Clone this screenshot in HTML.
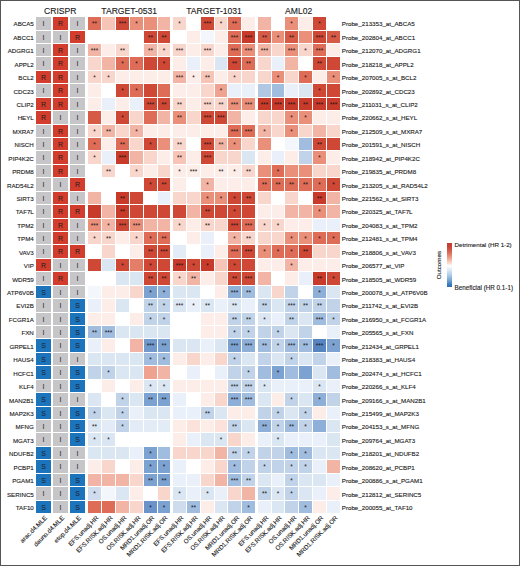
<!DOCTYPE html><html><head><meta charset="utf-8"><style>
html,body{margin:0;padding:0;background:#fff;}
#c{position:relative;width:520px;height:566px;overflow:hidden;background:#fff;font-family:"Liberation Sans",sans-serif;color:#1a1a1a;}
.b{position:absolute;box-sizing:border-box;}
.c{position:absolute;}
.t{position:absolute;white-space:nowrap;line-height:1;-webkit-text-stroke:0.12px #222;}
.s{position:absolute;text-align:center;line-height:1;color:#1a1414;}
</style></head><body><div id="c">
<div class="b" style="left:0;top:0;width:520px;height:566px;border:1px solid #555;"></div>
<div class="c" style="left:36px;top:17px;width:15px;height:13px;background:#c6c6c8"></div>
<div class="s" style="left:36px;top:20.20px;width:15px;font-size:7.0px;color:#1e1e1e">I</div>
<div class="c" style="left:53px;top:17px;width:15px;height:13px;background:#d23d2d"></div>
<div class="s" style="left:53px;top:20.20px;width:15px;font-size:7.0px;color:#1e1e1e">R</div>
<div class="c" style="left:70px;top:17px;width:15px;height:13px;background:#c6c6c8"></div>
<div class="s" style="left:70px;top:20.20px;width:15px;font-size:7.0px;color:#1e1e1e">I</div>
<div class="c" style="left:36px;top:31px;width:15px;height:12px;background:#c6c6c8"></div>
<div class="s" style="left:36px;top:33.70px;width:15px;font-size:7.0px;color:#1e1e1e">I</div>
<div class="c" style="left:53px;top:31px;width:15px;height:12px;background:#c6c6c8"></div>
<div class="s" style="left:53px;top:33.70px;width:15px;font-size:7.0px;color:#1e1e1e">I</div>
<div class="c" style="left:70px;top:31px;width:15px;height:12px;background:#d23d2d"></div>
<div class="s" style="left:70px;top:33.70px;width:15px;font-size:7.0px;color:#1e1e1e">R</div>
<div class="c" style="left:36px;top:44px;width:15px;height:12px;background:#c6c6c8"></div>
<div class="s" style="left:36px;top:46.70px;width:15px;font-size:7.0px;color:#1e1e1e">I</div>
<div class="c" style="left:53px;top:44px;width:15px;height:12px;background:#d23d2d"></div>
<div class="s" style="left:53px;top:46.70px;width:15px;font-size:7.0px;color:#1e1e1e">R</div>
<div class="c" style="left:70px;top:44px;width:15px;height:12px;background:#c6c6c8"></div>
<div class="s" style="left:70px;top:46.70px;width:15px;font-size:7.0px;color:#1e1e1e">I</div>
<div class="c" style="left:36px;top:57px;width:15px;height:13px;background:#c6c6c8"></div>
<div class="s" style="left:36px;top:60.20px;width:15px;font-size:7.0px;color:#1e1e1e">I</div>
<div class="c" style="left:53px;top:57px;width:15px;height:13px;background:#d23d2d"></div>
<div class="s" style="left:53px;top:60.20px;width:15px;font-size:7.0px;color:#1e1e1e">R</div>
<div class="c" style="left:70px;top:57px;width:15px;height:13px;background:#c6c6c8"></div>
<div class="s" style="left:70px;top:60.20px;width:15px;font-size:7.0px;color:#1e1e1e">I</div>
<div class="c" style="left:36px;top:71px;width:15px;height:12px;background:#d23d2d"></div>
<div class="s" style="left:36px;top:73.70px;width:15px;font-size:7.0px;color:#1e1e1e">R</div>
<div class="c" style="left:53px;top:71px;width:15px;height:12px;background:#d23d2d"></div>
<div class="s" style="left:53px;top:73.70px;width:15px;font-size:7.0px;color:#1e1e1e">R</div>
<div class="c" style="left:70px;top:71px;width:15px;height:12px;background:#c6c6c8"></div>
<div class="s" style="left:70px;top:73.70px;width:15px;font-size:7.0px;color:#1e1e1e">I</div>
<div class="c" style="left:36px;top:84px;width:15px;height:13px;background:#c6c6c8"></div>
<div class="s" style="left:36px;top:87.20px;width:15px;font-size:7.0px;color:#1e1e1e">I</div>
<div class="c" style="left:53px;top:84px;width:15px;height:13px;background:#d23d2d"></div>
<div class="s" style="left:53px;top:87.20px;width:15px;font-size:7.0px;color:#1e1e1e">R</div>
<div class="c" style="left:70px;top:84px;width:15px;height:13px;background:#c6c6c8"></div>
<div class="s" style="left:70px;top:87.20px;width:15px;font-size:7.0px;color:#1e1e1e">I</div>
<div class="c" style="left:36px;top:98px;width:15px;height:12px;background:#d23d2d"></div>
<div class="s" style="left:36px;top:100.70px;width:15px;font-size:7.0px;color:#1e1e1e">R</div>
<div class="c" style="left:53px;top:98px;width:15px;height:12px;background:#d23d2d"></div>
<div class="s" style="left:53px;top:100.70px;width:15px;font-size:7.0px;color:#1e1e1e">R</div>
<div class="c" style="left:70px;top:98px;width:15px;height:12px;background:#c6c6c8"></div>
<div class="s" style="left:70px;top:100.70px;width:15px;font-size:7.0px;color:#1e1e1e">I</div>
<div class="c" style="left:36px;top:111px;width:15px;height:13px;background:#d23d2d"></div>
<div class="s" style="left:36px;top:114.20px;width:15px;font-size:7.0px;color:#1e1e1e">R</div>
<div class="c" style="left:53px;top:111px;width:15px;height:13px;background:#c6c6c8"></div>
<div class="s" style="left:53px;top:114.20px;width:15px;font-size:7.0px;color:#1e1e1e">I</div>
<div class="c" style="left:70px;top:111px;width:15px;height:13px;background:#c6c6c8"></div>
<div class="s" style="left:70px;top:114.20px;width:15px;font-size:7.0px;color:#1e1e1e">I</div>
<div class="c" style="left:36px;top:125px;width:15px;height:12px;background:#c6c6c8"></div>
<div class="s" style="left:36px;top:127.70px;width:15px;font-size:7.0px;color:#1e1e1e">I</div>
<div class="c" style="left:53px;top:125px;width:15px;height:12px;background:#d23d2d"></div>
<div class="s" style="left:53px;top:127.70px;width:15px;font-size:7.0px;color:#1e1e1e">R</div>
<div class="c" style="left:70px;top:125px;width:15px;height:12px;background:#c6c6c8"></div>
<div class="s" style="left:70px;top:127.70px;width:15px;font-size:7.0px;color:#1e1e1e">I</div>
<div class="c" style="left:36px;top:138px;width:15px;height:12px;background:#c6c6c8"></div>
<div class="s" style="left:36px;top:140.70px;width:15px;font-size:7.0px;color:#1e1e1e">I</div>
<div class="c" style="left:53px;top:138px;width:15px;height:12px;background:#d23d2d"></div>
<div class="s" style="left:53px;top:140.70px;width:15px;font-size:7.0px;color:#1e1e1e">R</div>
<div class="c" style="left:70px;top:138px;width:15px;height:12px;background:#c6c6c8"></div>
<div class="s" style="left:70px;top:140.70px;width:15px;font-size:7.0px;color:#1e1e1e">I</div>
<div class="c" style="left:36px;top:151px;width:15px;height:13px;background:#c6c6c8"></div>
<div class="s" style="left:36px;top:154.20px;width:15px;font-size:7.0px;color:#1e1e1e">I</div>
<div class="c" style="left:53px;top:151px;width:15px;height:13px;background:#d23d2d"></div>
<div class="s" style="left:53px;top:154.20px;width:15px;font-size:7.0px;color:#1e1e1e">R</div>
<div class="c" style="left:70px;top:151px;width:15px;height:13px;background:#c6c6c8"></div>
<div class="s" style="left:70px;top:154.20px;width:15px;font-size:7.0px;color:#1e1e1e">I</div>
<div class="c" style="left:36px;top:165px;width:15px;height:12px;background:#c6c6c8"></div>
<div class="s" style="left:36px;top:167.70px;width:15px;font-size:7.0px;color:#1e1e1e">I</div>
<div class="c" style="left:53px;top:165px;width:15px;height:12px;background:#d23d2d"></div>
<div class="s" style="left:53px;top:167.70px;width:15px;font-size:7.0px;color:#1e1e1e">R</div>
<div class="c" style="left:70px;top:165px;width:15px;height:12px;background:#c6c6c8"></div>
<div class="s" style="left:70px;top:167.70px;width:15px;font-size:7.0px;color:#1e1e1e">I</div>
<div class="c" style="left:36px;top:178px;width:15px;height:13px;background:#c6c6c8"></div>
<div class="s" style="left:36px;top:181.20px;width:15px;font-size:7.0px;color:#1e1e1e">I</div>
<div class="c" style="left:53px;top:178px;width:15px;height:13px;background:#c6c6c8"></div>
<div class="s" style="left:53px;top:181.20px;width:15px;font-size:7.0px;color:#1e1e1e">I</div>
<div class="c" style="left:70px;top:178px;width:15px;height:13px;background:#d23d2d"></div>
<div class="s" style="left:70px;top:181.20px;width:15px;font-size:7.0px;color:#1e1e1e">R</div>
<div class="c" style="left:36px;top:192px;width:15px;height:12px;background:#c6c6c8"></div>
<div class="s" style="left:36px;top:194.70px;width:15px;font-size:7.0px;color:#1e1e1e">I</div>
<div class="c" style="left:53px;top:192px;width:15px;height:12px;background:#d23d2d"></div>
<div class="s" style="left:53px;top:194.70px;width:15px;font-size:7.0px;color:#1e1e1e">R</div>
<div class="c" style="left:70px;top:192px;width:15px;height:12px;background:#c6c6c8"></div>
<div class="s" style="left:70px;top:194.70px;width:15px;font-size:7.0px;color:#1e1e1e">I</div>
<div class="c" style="left:36px;top:205px;width:15px;height:13px;background:#c6c6c8"></div>
<div class="s" style="left:36px;top:208.20px;width:15px;font-size:7.0px;color:#1e1e1e">I</div>
<div class="c" style="left:53px;top:205px;width:15px;height:13px;background:#d23d2d"></div>
<div class="s" style="left:53px;top:208.20px;width:15px;font-size:7.0px;color:#1e1e1e">R</div>
<div class="c" style="left:70px;top:205px;width:15px;height:13px;background:#d23d2d"></div>
<div class="s" style="left:70px;top:208.20px;width:15px;font-size:7.0px;color:#1e1e1e">R</div>
<div class="c" style="left:36px;top:219px;width:15px;height:12px;background:#c6c6c8"></div>
<div class="s" style="left:36px;top:221.70px;width:15px;font-size:7.0px;color:#1e1e1e">I</div>
<div class="c" style="left:53px;top:219px;width:15px;height:12px;background:#d23d2d"></div>
<div class="s" style="left:53px;top:221.70px;width:15px;font-size:7.0px;color:#1e1e1e">R</div>
<div class="c" style="left:70px;top:219px;width:15px;height:12px;background:#c6c6c8"></div>
<div class="s" style="left:70px;top:221.70px;width:15px;font-size:7.0px;color:#1e1e1e">I</div>
<div class="c" style="left:36px;top:232px;width:15px;height:12px;background:#c6c6c8"></div>
<div class="s" style="left:36px;top:234.70px;width:15px;font-size:7.0px;color:#1e1e1e">I</div>
<div class="c" style="left:53px;top:232px;width:15px;height:12px;background:#d23d2d"></div>
<div class="s" style="left:53px;top:234.70px;width:15px;font-size:7.0px;color:#1e1e1e">R</div>
<div class="c" style="left:70px;top:232px;width:15px;height:12px;background:#c6c6c8"></div>
<div class="s" style="left:70px;top:234.70px;width:15px;font-size:7.0px;color:#1e1e1e">I</div>
<div class="c" style="left:36px;top:245px;width:15px;height:13px;background:#c6c6c8"></div>
<div class="s" style="left:36px;top:248.20px;width:15px;font-size:7.0px;color:#1e1e1e">I</div>
<div class="c" style="left:53px;top:245px;width:15px;height:13px;background:#d23d2d"></div>
<div class="s" style="left:53px;top:248.20px;width:15px;font-size:7.0px;color:#1e1e1e">R</div>
<div class="c" style="left:70px;top:245px;width:15px;height:13px;background:#d23d2d"></div>
<div class="s" style="left:70px;top:248.20px;width:15px;font-size:7.0px;color:#1e1e1e">R</div>
<div class="c" style="left:36px;top:259px;width:15px;height:12px;background:#d23d2d"></div>
<div class="s" style="left:36px;top:261.70px;width:15px;font-size:7.0px;color:#1e1e1e">R</div>
<div class="c" style="left:53px;top:259px;width:15px;height:12px;background:#c6c6c8"></div>
<div class="s" style="left:53px;top:261.70px;width:15px;font-size:7.0px;color:#1e1e1e">I</div>
<div class="c" style="left:70px;top:259px;width:15px;height:12px;background:#c6c6c8"></div>
<div class="s" style="left:70px;top:261.70px;width:15px;font-size:7.0px;color:#1e1e1e">I</div>
<div class="c" style="left:36px;top:272px;width:15px;height:13px;background:#c6c6c8"></div>
<div class="s" style="left:36px;top:275.20px;width:15px;font-size:7.0px;color:#1e1e1e">I</div>
<div class="c" style="left:53px;top:272px;width:15px;height:13px;background:#d23d2d"></div>
<div class="s" style="left:53px;top:275.20px;width:15px;font-size:7.0px;color:#1e1e1e">R</div>
<div class="c" style="left:70px;top:272px;width:15px;height:13px;background:#c6c6c8"></div>
<div class="s" style="left:70px;top:275.20px;width:15px;font-size:7.0px;color:#1e1e1e">I</div>
<div class="c" style="left:36px;top:286px;width:15px;height:12px;background:#1c74bd"></div>
<div class="s" style="left:36px;top:288.70px;width:15px;font-size:7.0px;color:#1e1e1e">S</div>
<div class="c" style="left:53px;top:286px;width:15px;height:12px;background:#c6c6c8"></div>
<div class="s" style="left:53px;top:288.70px;width:15px;font-size:7.0px;color:#1e1e1e">I</div>
<div class="c" style="left:70px;top:286px;width:15px;height:12px;background:#c6c6c8"></div>
<div class="s" style="left:70px;top:288.70px;width:15px;font-size:7.0px;color:#1e1e1e">I</div>
<div class="c" style="left:36px;top:299px;width:15px;height:13px;background:#c6c6c8"></div>
<div class="s" style="left:36px;top:302.20px;width:15px;font-size:7.0px;color:#1e1e1e">I</div>
<div class="c" style="left:53px;top:299px;width:15px;height:13px;background:#c6c6c8"></div>
<div class="s" style="left:53px;top:302.20px;width:15px;font-size:7.0px;color:#1e1e1e">I</div>
<div class="c" style="left:70px;top:299px;width:15px;height:13px;background:#1c74bd"></div>
<div class="s" style="left:70px;top:302.20px;width:15px;font-size:7.0px;color:#1e1e1e">S</div>
<div class="c" style="left:36px;top:313px;width:15px;height:12px;background:#c6c6c8"></div>
<div class="s" style="left:36px;top:315.70px;width:15px;font-size:7.0px;color:#1e1e1e">I</div>
<div class="c" style="left:53px;top:313px;width:15px;height:12px;background:#c6c6c8"></div>
<div class="s" style="left:53px;top:315.70px;width:15px;font-size:7.0px;color:#1e1e1e">I</div>
<div class="c" style="left:70px;top:313px;width:15px;height:12px;background:#1c74bd"></div>
<div class="s" style="left:70px;top:315.70px;width:15px;font-size:7.0px;color:#1e1e1e">S</div>
<div class="c" style="left:36px;top:326px;width:15px;height:12px;background:#c6c6c8"></div>
<div class="s" style="left:36px;top:328.70px;width:15px;font-size:7.0px;color:#1e1e1e">I</div>
<div class="c" style="left:53px;top:326px;width:15px;height:12px;background:#c6c6c8"></div>
<div class="s" style="left:53px;top:328.70px;width:15px;font-size:7.0px;color:#1e1e1e">I</div>
<div class="c" style="left:70px;top:326px;width:15px;height:12px;background:#1c74bd"></div>
<div class="s" style="left:70px;top:328.70px;width:15px;font-size:7.0px;color:#1e1e1e">S</div>
<div class="c" style="left:36px;top:339px;width:15px;height:13px;background:#1c74bd"></div>
<div class="s" style="left:36px;top:342.20px;width:15px;font-size:7.0px;color:#1e1e1e">S</div>
<div class="c" style="left:53px;top:339px;width:15px;height:13px;background:#c6c6c8"></div>
<div class="s" style="left:53px;top:342.20px;width:15px;font-size:7.0px;color:#1e1e1e">I</div>
<div class="c" style="left:70px;top:339px;width:15px;height:13px;background:#1c74bd"></div>
<div class="s" style="left:70px;top:342.20px;width:15px;font-size:7.0px;color:#1e1e1e">S</div>
<div class="c" style="left:36px;top:353px;width:15px;height:12px;background:#1c74bd"></div>
<div class="s" style="left:36px;top:355.70px;width:15px;font-size:7.0px;color:#1e1e1e">S</div>
<div class="c" style="left:53px;top:353px;width:15px;height:12px;background:#c6c6c8"></div>
<div class="s" style="left:53px;top:355.70px;width:15px;font-size:7.0px;color:#1e1e1e">I</div>
<div class="c" style="left:70px;top:353px;width:15px;height:12px;background:#c6c6c8"></div>
<div class="s" style="left:70px;top:355.70px;width:15px;font-size:7.0px;color:#1e1e1e">I</div>
<div class="c" style="left:36px;top:366px;width:15px;height:13px;background:#1c74bd"></div>
<div class="s" style="left:36px;top:369.20px;width:15px;font-size:7.0px;color:#1e1e1e">S</div>
<div class="c" style="left:53px;top:366px;width:15px;height:13px;background:#c6c6c8"></div>
<div class="s" style="left:53px;top:369.20px;width:15px;font-size:7.0px;color:#1e1e1e">I</div>
<div class="c" style="left:70px;top:366px;width:15px;height:13px;background:#1c74bd"></div>
<div class="s" style="left:70px;top:369.20px;width:15px;font-size:7.0px;color:#1e1e1e">S</div>
<div class="c" style="left:36px;top:380px;width:15px;height:12px;background:#c6c6c8"></div>
<div class="s" style="left:36px;top:382.70px;width:15px;font-size:7.0px;color:#1e1e1e">I</div>
<div class="c" style="left:53px;top:380px;width:15px;height:12px;background:#c6c6c8"></div>
<div class="s" style="left:53px;top:382.70px;width:15px;font-size:7.0px;color:#1e1e1e">I</div>
<div class="c" style="left:70px;top:380px;width:15px;height:12px;background:#1c74bd"></div>
<div class="s" style="left:70px;top:382.70px;width:15px;font-size:7.0px;color:#1e1e1e">S</div>
<div class="c" style="left:36px;top:393px;width:15px;height:13px;background:#1c74bd"></div>
<div class="s" style="left:36px;top:396.20px;width:15px;font-size:7.0px;color:#1e1e1e">S</div>
<div class="c" style="left:53px;top:393px;width:15px;height:13px;background:#c6c6c8"></div>
<div class="s" style="left:53px;top:396.20px;width:15px;font-size:7.0px;color:#1e1e1e">I</div>
<div class="c" style="left:70px;top:393px;width:15px;height:13px;background:#c6c6c8"></div>
<div class="s" style="left:70px;top:396.20px;width:15px;font-size:7.0px;color:#1e1e1e">I</div>
<div class="c" style="left:36px;top:407px;width:15px;height:12px;background:#1c74bd"></div>
<div class="s" style="left:36px;top:409.70px;width:15px;font-size:7.0px;color:#1e1e1e">S</div>
<div class="c" style="left:53px;top:407px;width:15px;height:12px;background:#c6c6c8"></div>
<div class="s" style="left:53px;top:409.70px;width:15px;font-size:7.0px;color:#1e1e1e">I</div>
<div class="c" style="left:70px;top:407px;width:15px;height:12px;background:#1c74bd"></div>
<div class="s" style="left:70px;top:409.70px;width:15px;font-size:7.0px;color:#1e1e1e">S</div>
<div class="c" style="left:36px;top:420px;width:15px;height:12px;background:#c6c6c8"></div>
<div class="s" style="left:36px;top:422.70px;width:15px;font-size:7.0px;color:#1e1e1e">I</div>
<div class="c" style="left:53px;top:420px;width:15px;height:12px;background:#c6c6c8"></div>
<div class="s" style="left:53px;top:422.70px;width:15px;font-size:7.0px;color:#1e1e1e">I</div>
<div class="c" style="left:70px;top:420px;width:15px;height:12px;background:#1c74bd"></div>
<div class="s" style="left:70px;top:422.70px;width:15px;font-size:7.0px;color:#1e1e1e">S</div>
<div class="c" style="left:36px;top:433px;width:15px;height:13px;background:#c6c6c8"></div>
<div class="s" style="left:36px;top:436.20px;width:15px;font-size:7.0px;color:#1e1e1e">I</div>
<div class="c" style="left:53px;top:433px;width:15px;height:13px;background:#c6c6c8"></div>
<div class="s" style="left:53px;top:436.20px;width:15px;font-size:7.0px;color:#1e1e1e">I</div>
<div class="c" style="left:70px;top:433px;width:15px;height:13px;background:#1c74bd"></div>
<div class="s" style="left:70px;top:436.20px;width:15px;font-size:7.0px;color:#1e1e1e">S</div>
<div class="c" style="left:36px;top:447px;width:15px;height:12px;background:#1c74bd"></div>
<div class="s" style="left:36px;top:449.70px;width:15px;font-size:7.0px;color:#1e1e1e">S</div>
<div class="c" style="left:53px;top:447px;width:15px;height:12px;background:#c6c6c8"></div>
<div class="s" style="left:53px;top:449.70px;width:15px;font-size:7.0px;color:#1e1e1e">I</div>
<div class="c" style="left:70px;top:447px;width:15px;height:12px;background:#c6c6c8"></div>
<div class="s" style="left:70px;top:449.70px;width:15px;font-size:7.0px;color:#1e1e1e">I</div>
<div class="c" style="left:36px;top:460px;width:15px;height:13px;background:#1c74bd"></div>
<div class="s" style="left:36px;top:463.20px;width:15px;font-size:7.0px;color:#1e1e1e">S</div>
<div class="c" style="left:53px;top:460px;width:15px;height:13px;background:#c6c6c8"></div>
<div class="s" style="left:53px;top:463.20px;width:15px;font-size:7.0px;color:#1e1e1e">I</div>
<div class="c" style="left:70px;top:460px;width:15px;height:13px;background:#c6c6c8"></div>
<div class="s" style="left:70px;top:463.20px;width:15px;font-size:7.0px;color:#1e1e1e">I</div>
<div class="c" style="left:36px;top:474px;width:15px;height:12px;background:#1c74bd"></div>
<div class="s" style="left:36px;top:476.70px;width:15px;font-size:7.0px;color:#1e1e1e">S</div>
<div class="c" style="left:53px;top:474px;width:15px;height:12px;background:#c6c6c8"></div>
<div class="s" style="left:53px;top:476.70px;width:15px;font-size:7.0px;color:#1e1e1e">I</div>
<div class="c" style="left:70px;top:474px;width:15px;height:12px;background:#1c74bd"></div>
<div class="s" style="left:70px;top:476.70px;width:15px;font-size:7.0px;color:#1e1e1e">S</div>
<div class="c" style="left:36px;top:487px;width:15px;height:13px;background:#c6c6c8"></div>
<div class="s" style="left:36px;top:490.20px;width:15px;font-size:7.0px;color:#1e1e1e">I</div>
<div class="c" style="left:53px;top:487px;width:15px;height:13px;background:#c6c6c8"></div>
<div class="s" style="left:53px;top:490.20px;width:15px;font-size:7.0px;color:#1e1e1e">I</div>
<div class="c" style="left:70px;top:487px;width:15px;height:13px;background:#1c74bd"></div>
<div class="s" style="left:70px;top:490.20px;width:15px;font-size:7.0px;color:#1e1e1e">S</div>
<div class="c" style="left:36px;top:501px;width:15px;height:12px;background:#1c74bd"></div>
<div class="s" style="left:36px;top:503.70px;width:15px;font-size:7.0px;color:#1e1e1e">S</div>
<div class="c" style="left:53px;top:501px;width:15px;height:12px;background:#c6c6c8"></div>
<div class="s" style="left:53px;top:503.70px;width:15px;font-size:7.0px;color:#1e1e1e">I</div>
<div class="c" style="left:70px;top:501px;width:15px;height:12px;background:#1c74bd"></div>
<div class="s" style="left:70px;top:503.70px;width:15px;font-size:7.0px;color:#1e1e1e">S</div>
<div class="c" style="left:88px;top:17px;width:13px;height:13px;background:#de6c57"></div>
<div class="s" style="left:88px;top:21.14px;width:13px;font-size:6.4px;letter-spacing:0px;">**</div>
<div class="c" style="left:102px;top:17px;width:13px;height:13px;background:#f6c5b8"></div>
<div class="c" style="left:116px;top:17px;width:13px;height:13px;background:#cf4735"></div>
<div class="s" style="left:116px;top:21.14px;width:13px;font-size:6.4px;letter-spacing:0px;">***</div>
<div class="c" style="left:130px;top:17px;width:13px;height:13px;background:#e98f7a"></div>
<div class="s" style="left:130px;top:21.14px;width:13px;font-size:6.4px;letter-spacing:0px;">*</div>
<div class="c" style="left:144px;top:17px;width:13px;height:13px;background:#e98f7a"></div>
<div class="c" style="left:158px;top:17px;width:12px;height:13px;background:#f2b4a4"></div>
<div class="c" style="left:88px;top:31px;width:13px;height:12px;background:#ffffff"></div>
<div class="c" style="left:102px;top:31px;width:13px;height:12px;background:#ffffff"></div>
<div class="c" style="left:116px;top:31px;width:13px;height:12px;background:#ffffff"></div>
<div class="c" style="left:130px;top:31px;width:13px;height:12px;background:#ffffff"></div>
<div class="c" style="left:144px;top:31px;width:13px;height:12px;background:#cf4735"></div>
<div class="s" style="left:144px;top:34.64px;width:13px;font-size:6.4px;letter-spacing:0px;">**</div>
<div class="c" style="left:158px;top:31px;width:12px;height:12px;background:#cf4735"></div>
<div class="s" style="left:158px;top:34.64px;width:12px;font-size:6.4px;letter-spacing:0px;">**</div>
<div class="c" style="left:88px;top:44px;width:13px;height:12px;background:#f2b4a4"></div>
<div class="s" style="left:88px;top:47.64px;width:13px;font-size:6.4px;letter-spacing:0px;">***</div>
<div class="c" style="left:102px;top:44px;width:13px;height:12px;background:#fdede8"></div>
<div class="c" style="left:116px;top:44px;width:13px;height:12px;background:#f9d6cc"></div>
<div class="s" style="left:116px;top:47.64px;width:13px;font-size:6.4px;letter-spacing:0px;">**</div>
<div class="c" style="left:130px;top:44px;width:13px;height:12px;background:#ffffff"></div>
<div class="c" style="left:144px;top:44px;width:13px;height:12px;background:#f2b4a4"></div>
<div class="s" style="left:144px;top:47.64px;width:13px;font-size:6.4px;letter-spacing:0px;">**</div>
<div class="c" style="left:158px;top:44px;width:12px;height:12px;background:#f9d6cc"></div>
<div class="s" style="left:158px;top:47.64px;width:12px;font-size:6.4px;letter-spacing:0px;">*</div>
<div class="c" style="left:88px;top:57px;width:13px;height:13px;background:#f9d6cc"></div>
<div class="c" style="left:102px;top:57px;width:13px;height:13px;background:#f2b4a4"></div>
<div class="c" style="left:116px;top:57px;width:13px;height:13px;background:#de6c57"></div>
<div class="s" style="left:116px;top:61.14px;width:13px;font-size:6.4px;letter-spacing:0px;">*</div>
<div class="c" style="left:130px;top:57px;width:13px;height:13px;background:#de6c57"></div>
<div class="s" style="left:130px;top:61.14px;width:13px;font-size:6.4px;letter-spacing:0px;">*</div>
<div class="c" style="left:144px;top:57px;width:13px;height:13px;background:#cf4735"></div>
<div class="c" style="left:158px;top:57px;width:12px;height:13px;background:#cf4735"></div>
<div class="s" style="left:158px;top:61.14px;width:12px;font-size:6.4px;letter-spacing:0px;">*</div>
<div class="c" style="left:88px;top:71px;width:13px;height:12px;background:#f9d6cc"></div>
<div class="s" style="left:88px;top:74.64px;width:13px;font-size:6.4px;letter-spacing:0px;">*</div>
<div class="c" style="left:102px;top:71px;width:13px;height:12px;background:#f9d6cc"></div>
<div class="s" style="left:102px;top:74.64px;width:13px;font-size:6.4px;letter-spacing:0px;">*</div>
<div class="c" style="left:116px;top:71px;width:13px;height:12px;background:#fdede8"></div>
<div class="c" style="left:130px;top:71px;width:13px;height:12px;background:#fdede8"></div>
<div class="c" style="left:144px;top:71px;width:13px;height:12px;background:#fdede8"></div>
<div class="c" style="left:158px;top:71px;width:12px;height:12px;background:#fdede8"></div>
<div class="c" style="left:88px;top:84px;width:13px;height:13px;background:#fdede8"></div>
<div class="c" style="left:102px;top:84px;width:13px;height:13px;background:#ffffff"></div>
<div class="c" style="left:116px;top:84px;width:13px;height:13px;background:#cf4735"></div>
<div class="s" style="left:116px;top:88.14px;width:13px;font-size:6.4px;letter-spacing:0px;">*</div>
<div class="c" style="left:130px;top:84px;width:13px;height:13px;background:#de6c57"></div>
<div class="s" style="left:130px;top:88.14px;width:13px;font-size:6.4px;letter-spacing:0px;">*</div>
<div class="c" style="left:144px;top:84px;width:13px;height:13px;background:#cf4735"></div>
<div class="c" style="left:158px;top:84px;width:12px;height:13px;background:#de6c57"></div>
<div class="c" style="left:88px;top:98px;width:13px;height:12px;background:#fdede8"></div>
<div class="c" style="left:102px;top:98px;width:13px;height:12px;background:#e9f0f9"></div>
<div class="c" style="left:116px;top:98px;width:13px;height:12px;background:#fdede8"></div>
<div class="c" style="left:130px;top:98px;width:13px;height:12px;background:#e9f0f9"></div>
<div class="c" style="left:144px;top:98px;width:13px;height:12px;background:#cf4735"></div>
<div class="s" style="left:144px;top:101.64px;width:13px;font-size:6.4px;letter-spacing:0px;">***</div>
<div class="c" style="left:158px;top:98px;width:12px;height:12px;background:#cf4735"></div>
<div class="s" style="left:158px;top:101.64px;width:12px;font-size:6.4px;letter-spacing:0px;">**</div>
<div class="c" style="left:88px;top:111px;width:13px;height:13px;background:#d65a46"></div>
<div class="c" style="left:102px;top:111px;width:13px;height:13px;background:#fdede8"></div>
<div class="c" style="left:116px;top:111px;width:13px;height:13px;background:#cf4735"></div>
<div class="s" style="left:116px;top:115.14px;width:13px;font-size:6.4px;letter-spacing:0px;">*</div>
<div class="c" style="left:130px;top:111px;width:13px;height:13px;background:#f9d6cc"></div>
<div class="c" style="left:144px;top:111px;width:13px;height:13px;background:#de6c57"></div>
<div class="c" style="left:158px;top:111px;width:12px;height:13px;background:#f2b4a4"></div>
<div class="c" style="left:88px;top:125px;width:13px;height:12px;background:#f9d6cc"></div>
<div class="s" style="left:88px;top:128.64px;width:13px;font-size:6.4px;letter-spacing:0px;">*</div>
<div class="c" style="left:102px;top:125px;width:13px;height:12px;background:#f2b4a4"></div>
<div class="s" style="left:102px;top:128.64px;width:13px;font-size:6.4px;letter-spacing:0px;">**</div>
<div class="c" style="left:116px;top:125px;width:13px;height:12px;background:#f9d6cc"></div>
<div class="c" style="left:130px;top:125px;width:13px;height:12px;background:#f2b4a4"></div>
<div class="s" style="left:130px;top:128.64px;width:13px;font-size:6.4px;letter-spacing:0px;">*</div>
<div class="c" style="left:144px;top:125px;width:13px;height:12px;background:#fdede8"></div>
<div class="c" style="left:158px;top:125px;width:12px;height:12px;background:#fdede8"></div>
<div class="c" style="left:88px;top:138px;width:13px;height:12px;background:#de6c57"></div>
<div class="s" style="left:88px;top:141.64px;width:13px;font-size:6.4px;letter-spacing:0px;">*</div>
<div class="c" style="left:102px;top:138px;width:13px;height:12px;background:#fdede8"></div>
<div class="c" style="left:116px;top:138px;width:13px;height:12px;background:#de6c57"></div>
<div class="s" style="left:116px;top:141.64px;width:13px;font-size:6.4px;letter-spacing:0px;">**</div>
<div class="c" style="left:130px;top:138px;width:13px;height:12px;background:#f9d6cc"></div>
<div class="c" style="left:144px;top:138px;width:13px;height:12px;background:#cf4735"></div>
<div class="s" style="left:144px;top:141.64px;width:13px;font-size:6.4px;letter-spacing:0px;">*</div>
<div class="c" style="left:158px;top:138px;width:12px;height:12px;background:#e98f7a"></div>
<div class="c" style="left:88px;top:151px;width:13px;height:13px;background:#f9d6cc"></div>
<div class="s" style="left:88px;top:155.14px;width:13px;font-size:6.4px;letter-spacing:0px;">*</div>
<div class="c" style="left:102px;top:151px;width:13px;height:13px;background:#e9f0f9"></div>
<div class="c" style="left:116px;top:151px;width:13px;height:13px;background:#c83a2a"></div>
<div class="s" style="left:116px;top:155.14px;width:13px;font-size:6.4px;letter-spacing:0px;">***</div>
<div class="c" style="left:130px;top:151px;width:13px;height:13px;background:#f2b4a4"></div>
<div class="c" style="left:144px;top:151px;width:13px;height:13px;background:#f9d6cc"></div>
<div class="c" style="left:158px;top:151px;width:12px;height:13px;background:#fdede8"></div>
<div class="c" style="left:88px;top:165px;width:13px;height:12px;background:#ffffff"></div>
<div class="c" style="left:102px;top:165px;width:13px;height:12px;background:#f9d6cc"></div>
<div class="s" style="left:102px;top:168.64px;width:13px;font-size:6.4px;letter-spacing:0px;">**</div>
<div class="c" style="left:116px;top:165px;width:13px;height:12px;background:#ffffff"></div>
<div class="c" style="left:130px;top:165px;width:13px;height:12px;background:#f9d6cc"></div>
<div class="s" style="left:130px;top:168.64px;width:13px;font-size:6.4px;letter-spacing:0px;">*</div>
<div class="c" style="left:144px;top:165px;width:13px;height:12px;background:#fdede8"></div>
<div class="c" style="left:158px;top:165px;width:12px;height:12px;background:#f9d6cc"></div>
<div class="c" style="left:88px;top:178px;width:13px;height:13px;background:#ffffff"></div>
<div class="c" style="left:102px;top:178px;width:13px;height:13px;background:#ffffff"></div>
<div class="c" style="left:116px;top:178px;width:13px;height:13px;background:#ffffff"></div>
<div class="c" style="left:130px;top:178px;width:13px;height:13px;background:#ffffff"></div>
<div class="c" style="left:144px;top:178px;width:13px;height:13px;background:#cf4735"></div>
<div class="s" style="left:144px;top:182.14px;width:13px;font-size:6.4px;letter-spacing:0px;">*</div>
<div class="c" style="left:158px;top:178px;width:12px;height:13px;background:#cf4735"></div>
<div class="s" style="left:158px;top:182.14px;width:12px;font-size:6.4px;letter-spacing:0px;">**</div>
<div class="c" style="left:88px;top:192px;width:13px;height:12px;background:#f2b4a4"></div>
<div class="c" style="left:102px;top:192px;width:13px;height:12px;background:#ffffff"></div>
<div class="c" style="left:116px;top:192px;width:13px;height:12px;background:#c83a2a"></div>
<div class="s" style="left:116px;top:195.64px;width:13px;font-size:6.4px;letter-spacing:0px;">**</div>
<div class="c" style="left:130px;top:192px;width:13px;height:12px;background:#cf4735"></div>
<div class="c" style="left:144px;top:192px;width:13px;height:12px;background:#ffffff"></div>
<div class="c" style="left:158px;top:192px;width:12px;height:12px;background:#e9f0f9"></div>
<div class="c" style="left:88px;top:205px;width:13px;height:13px;background:#c83a2a"></div>
<div class="c" style="left:102px;top:205px;width:13px;height:13px;background:#f2b4a4"></div>
<div class="c" style="left:116px;top:205px;width:13px;height:13px;background:#c83a2a"></div>
<div class="s" style="left:116px;top:209.14px;width:13px;font-size:6.4px;letter-spacing:0px;">**</div>
<div class="c" style="left:130px;top:205px;width:13px;height:13px;background:#cf4735"></div>
<div class="c" style="left:144px;top:205px;width:13px;height:13px;background:#cf4735"></div>
<div class="c" style="left:158px;top:205px;width:12px;height:13px;background:#cf4735"></div>
<div class="c" style="left:88px;top:219px;width:13px;height:12px;background:#e98f7a"></div>
<div class="s" style="left:88px;top:222.64px;width:13px;font-size:6.4px;letter-spacing:0px;">***</div>
<div class="c" style="left:102px;top:219px;width:13px;height:12px;background:#f2b4a4"></div>
<div class="s" style="left:102px;top:222.64px;width:13px;font-size:6.4px;letter-spacing:0px;">*</div>
<div class="c" style="left:116px;top:219px;width:13px;height:12px;background:#cf4735"></div>
<div class="s" style="left:116px;top:222.64px;width:13px;font-size:6.4px;letter-spacing:0px;">***</div>
<div class="c" style="left:130px;top:219px;width:13px;height:12px;background:#e98f7a"></div>
<div class="s" style="left:130px;top:222.64px;width:13px;font-size:6.4px;letter-spacing:0px;">***</div>
<div class="c" style="left:144px;top:219px;width:13px;height:12px;background:#f2b4a4"></div>
<div class="c" style="left:158px;top:219px;width:12px;height:12px;background:#f2b4a4"></div>
<div class="c" style="left:88px;top:232px;width:13px;height:12px;background:#f9d6cc"></div>
<div class="s" style="left:88px;top:235.64px;width:13px;font-size:6.4px;letter-spacing:0px;">*</div>
<div class="c" style="left:102px;top:232px;width:13px;height:12px;background:#f9d6cc"></div>
<div class="s" style="left:102px;top:235.64px;width:13px;font-size:6.4px;letter-spacing:0px;">**</div>
<div class="c" style="left:116px;top:232px;width:13px;height:12px;background:#fdede8"></div>
<div class="c" style="left:130px;top:232px;width:13px;height:12px;background:#f9d6cc"></div>
<div class="s" style="left:130px;top:235.64px;width:13px;font-size:6.4px;letter-spacing:0px;">*</div>
<div class="c" style="left:144px;top:232px;width:13px;height:12px;background:#de6c57"></div>
<div class="s" style="left:144px;top:235.64px;width:13px;font-size:6.4px;letter-spacing:0px;">*</div>
<div class="c" style="left:158px;top:232px;width:12px;height:12px;background:#de6c57"></div>
<div class="s" style="left:158px;top:235.64px;width:12px;font-size:6.4px;letter-spacing:0px;">**</div>
<div class="c" style="left:88px;top:245px;width:13px;height:13px;background:#ffffff"></div>
<div class="c" style="left:102px;top:245px;width:13px;height:13px;background:#f9d6cc"></div>
<div class="c" style="left:116px;top:245px;width:13px;height:13px;background:#ffffff"></div>
<div class="c" style="left:130px;top:245px;width:13px;height:13px;background:#fdede8"></div>
<div class="c" style="left:144px;top:245px;width:13px;height:13px;background:#cf4735"></div>
<div class="s" style="left:144px;top:249.14px;width:13px;font-size:6.4px;letter-spacing:0px;">**</div>
<div class="c" style="left:158px;top:245px;width:12px;height:13px;background:#cf4735"></div>
<div class="s" style="left:158px;top:249.14px;width:12px;font-size:6.4px;letter-spacing:0px;">***</div>
<div class="c" style="left:88px;top:259px;width:13px;height:12px;background:#cf4735"></div>
<div class="c" style="left:102px;top:259px;width:13px;height:12px;background:#dbe6f3"></div>
<div class="c" style="left:116px;top:259px;width:13px;height:12px;background:#cf4735"></div>
<div class="s" style="left:116px;top:262.64px;width:13px;font-size:6.4px;letter-spacing:0px;">*</div>
<div class="c" style="left:130px;top:259px;width:13px;height:12px;background:#e47e68"></div>
<div class="c" style="left:144px;top:259px;width:13px;height:12px;background:#cf4735"></div>
<div class="s" style="left:144px;top:262.64px;width:13px;font-size:6.4px;letter-spacing:0px;">*</div>
<div class="c" style="left:158px;top:259px;width:12px;height:12px;background:#cf4735"></div>
<div class="c" style="left:88px;top:272px;width:13px;height:13px;background:#ffffff"></div>
<div class="c" style="left:102px;top:272px;width:13px;height:13px;background:#ffffff"></div>
<div class="c" style="left:116px;top:272px;width:13px;height:13px;background:#dbe6f3"></div>
<div class="c" style="left:130px;top:272px;width:13px;height:13px;background:#dbe6f3"></div>
<div class="c" style="left:144px;top:272px;width:13px;height:13px;background:#cf4735"></div>
<div class="s" style="left:144px;top:276.14px;width:13px;font-size:6.4px;letter-spacing:0px;">**</div>
<div class="c" style="left:158px;top:272px;width:12px;height:13px;background:#cf4735"></div>
<div class="s" style="left:158px;top:276.14px;width:12px;font-size:6.4px;letter-spacing:0px;">**</div>
<div class="c" style="left:88px;top:286px;width:13px;height:12px;background:#f3f6fb"></div>
<div class="c" style="left:102px;top:286px;width:13px;height:12px;background:#fdede8"></div>
<div class="c" style="left:116px;top:286px;width:13px;height:12px;background:#fdede8"></div>
<div class="c" style="left:130px;top:286px;width:13px;height:12px;background:#f9d6cc"></div>
<div class="c" style="left:144px;top:286px;width:13px;height:12px;background:#7ca2d1"></div>
<div class="s" style="left:144px;top:289.64px;width:13px;font-size:6.4px;letter-spacing:0px;">*</div>
<div class="c" style="left:158px;top:286px;width:12px;height:12px;background:#8eafd8"></div>
<div class="s" style="left:158px;top:289.64px;width:12px;font-size:6.4px;letter-spacing:0px;">*</div>
<div class="c" style="left:88px;top:299px;width:13px;height:13px;background:#e9f0f9"></div>
<div class="c" style="left:102px;top:299px;width:13px;height:13px;background:#fdede8"></div>
<div class="c" style="left:116px;top:299px;width:13px;height:13px;background:#dbe6f3"></div>
<div class="c" style="left:130px;top:299px;width:13px;height:13px;background:#ffffff"></div>
<div class="c" style="left:144px;top:299px;width:13px;height:13px;background:#c0d3e9"></div>
<div class="s" style="left:144px;top:303.14px;width:13px;font-size:6.4px;letter-spacing:0px;">**</div>
<div class="c" style="left:158px;top:299px;width:12px;height:13px;background:#c0d3e9"></div>
<div class="s" style="left:158px;top:303.14px;width:12px;font-size:6.4px;letter-spacing:0px;">*</div>
<div class="c" style="left:88px;top:313px;width:13px;height:12px;background:#fdede8"></div>
<div class="c" style="left:102px;top:313px;width:13px;height:12px;background:#fdede8"></div>
<div class="c" style="left:116px;top:313px;width:13px;height:12px;background:#ffffff"></div>
<div class="c" style="left:130px;top:313px;width:13px;height:12px;background:#fdede8"></div>
<div class="c" style="left:144px;top:313px;width:13px;height:12px;background:#c0d3e9"></div>
<div class="s" style="left:144px;top:316.64px;width:13px;font-size:6.4px;letter-spacing:0px;">*</div>
<div class="c" style="left:158px;top:313px;width:12px;height:12px;background:#c0d3e9"></div>
<div class="s" style="left:158px;top:316.64px;width:12px;font-size:6.4px;letter-spacing:0px;">*</div>
<div class="c" style="left:88px;top:326px;width:13px;height:12px;background:#a0bcde"></div>
<div class="s" style="left:88px;top:329.64px;width:13px;font-size:6.4px;letter-spacing:0px;">**</div>
<div class="c" style="left:102px;top:326px;width:13px;height:12px;background:#a0bcde"></div>
<div class="s" style="left:102px;top:329.64px;width:13px;font-size:6.4px;letter-spacing:0px;">***</div>
<div class="c" style="left:116px;top:326px;width:13px;height:12px;background:#dbe6f3"></div>
<div class="c" style="left:130px;top:326px;width:13px;height:12px;background:#dbe6f3"></div>
<div class="c" style="left:144px;top:326px;width:13px;height:12px;background:#dbe6f3"></div>
<div class="c" style="left:158px;top:326px;width:12px;height:12px;background:#dbe6f3"></div>
<div class="c" style="left:88px;top:339px;width:13px;height:13px;background:#e9f0f9"></div>
<div class="c" style="left:102px;top:339px;width:13px;height:13px;background:#fdede8"></div>
<div class="c" style="left:116px;top:339px;width:13px;height:13px;background:#ffffff"></div>
<div class="c" style="left:130px;top:339px;width:13px;height:13px;background:#f2b4a4"></div>
<div class="c" style="left:144px;top:339px;width:13px;height:13px;background:#7199cc"></div>
<div class="s" style="left:144px;top:343.14px;width:13px;font-size:6.4px;letter-spacing:0px;">***</div>
<div class="c" style="left:158px;top:339px;width:12px;height:13px;background:#7ca2d1"></div>
<div class="s" style="left:158px;top:343.14px;width:12px;font-size:6.4px;letter-spacing:0px;">**</div>
<div class="c" style="left:88px;top:353px;width:13px;height:12px;background:#dbe6f3"></div>
<div class="c" style="left:102px;top:353px;width:13px;height:12px;background:#dbe6f3"></div>
<div class="c" style="left:116px;top:353px;width:13px;height:12px;background:#dbe6f3"></div>
<div class="c" style="left:130px;top:353px;width:13px;height:12px;background:#dbe6f3"></div>
<div class="c" style="left:144px;top:353px;width:13px;height:12px;background:#a0bcde"></div>
<div class="s" style="left:144px;top:356.64px;width:13px;font-size:6.4px;letter-spacing:0px;">*</div>
<div class="c" style="left:158px;top:353px;width:12px;height:12px;background:#a0bcde"></div>
<div class="s" style="left:158px;top:356.64px;width:12px;font-size:6.4px;letter-spacing:0px;">*</div>
<div class="c" style="left:88px;top:366px;width:13px;height:13px;background:#c0d3e9"></div>
<div class="c" style="left:102px;top:366px;width:13px;height:13px;background:#c0d3e9"></div>
<div class="s" style="left:102px;top:370.14px;width:13px;font-size:6.4px;letter-spacing:0px;">*</div>
<div class="c" style="left:116px;top:366px;width:13px;height:13px;background:#dbe6f3"></div>
<div class="c" style="left:130px;top:366px;width:13px;height:13px;background:#dbe6f3"></div>
<div class="c" style="left:144px;top:366px;width:13px;height:13px;background:#eea28f"></div>
<div class="c" style="left:158px;top:366px;width:12px;height:13px;background:#f2b4a4"></div>
<div class="c" style="left:88px;top:380px;width:13px;height:12px;background:#ffffff"></div>
<div class="c" style="left:102px;top:380px;width:13px;height:12px;background:#fdede8"></div>
<div class="c" style="left:116px;top:380px;width:13px;height:12px;background:#ffffff"></div>
<div class="c" style="left:130px;top:380px;width:13px;height:12px;background:#fdede8"></div>
<div class="c" style="left:144px;top:380px;width:13px;height:12px;background:#dbe6f3"></div>
<div class="s" style="left:144px;top:383.64px;width:13px;font-size:6.4px;letter-spacing:0px;">*</div>
<div class="c" style="left:158px;top:380px;width:12px;height:12px;background:#dbe6f3"></div>
<div class="s" style="left:158px;top:383.64px;width:12px;font-size:6.4px;letter-spacing:0px;">*</div>
<div class="c" style="left:88px;top:393px;width:13px;height:13px;background:#dbe6f3"></div>
<div class="c" style="left:102px;top:393px;width:13px;height:13px;background:#ffffff"></div>
<div class="c" style="left:116px;top:393px;width:13px;height:13px;background:#c0d3e9"></div>
<div class="s" style="left:116px;top:397.14px;width:13px;font-size:6.4px;letter-spacing:0px;">*</div>
<div class="c" style="left:130px;top:393px;width:13px;height:13px;background:#dbe6f3"></div>
<div class="c" style="left:144px;top:393px;width:13px;height:13px;background:#7ca2d1"></div>
<div class="s" style="left:144px;top:397.14px;width:13px;font-size:6.4px;letter-spacing:0px;">**</div>
<div class="c" style="left:158px;top:393px;width:12px;height:13px;background:#7ca2d1"></div>
<div class="s" style="left:158px;top:397.14px;width:12px;font-size:6.4px;letter-spacing:0px;">**</div>
<div class="c" style="left:88px;top:407px;width:13px;height:12px;background:#c0d3e9"></div>
<div class="s" style="left:88px;top:410.64px;width:13px;font-size:6.4px;letter-spacing:0px;">*</div>
<div class="c" style="left:102px;top:407px;width:13px;height:12px;background:#dbe6f3"></div>
<div class="c" style="left:116px;top:407px;width:13px;height:12px;background:#c0d3e9"></div>
<div class="s" style="left:116px;top:410.64px;width:13px;font-size:6.4px;letter-spacing:0px;">*</div>
<div class="c" style="left:130px;top:407px;width:13px;height:12px;background:#e9f0f9"></div>
<div class="c" style="left:144px;top:407px;width:13px;height:12px;background:#dbe6f3"></div>
<div class="c" style="left:158px;top:407px;width:12px;height:12px;background:#dbe6f3"></div>
<div class="c" style="left:88px;top:420px;width:13px;height:12px;background:#dbe6f3"></div>
<div class="s" style="left:88px;top:423.64px;width:13px;font-size:6.4px;letter-spacing:0px;">**</div>
<div class="c" style="left:102px;top:420px;width:13px;height:12px;background:#e2ebf6"></div>
<div class="c" style="left:116px;top:420px;width:13px;height:12px;background:#c0d3e9"></div>
<div class="s" style="left:116px;top:423.64px;width:13px;font-size:6.4px;letter-spacing:0px;">*</div>
<div class="c" style="left:130px;top:420px;width:13px;height:12px;background:#e2ebf6"></div>
<div class="c" style="left:144px;top:420px;width:13px;height:12px;background:#e2ebf6"></div>
<div class="c" style="left:158px;top:420px;width:12px;height:12px;background:#e2ebf6"></div>
<div class="c" style="left:88px;top:433px;width:13px;height:13px;background:#dbe6f3"></div>
<div class="s" style="left:88px;top:437.14px;width:13px;font-size:6.4px;letter-spacing:0px;">*</div>
<div class="c" style="left:102px;top:433px;width:13px;height:13px;background:#dbe6f3"></div>
<div class="s" style="left:102px;top:437.14px;width:13px;font-size:6.4px;letter-spacing:0px;">*</div>
<div class="c" style="left:116px;top:433px;width:13px;height:13px;background:#ffffff"></div>
<div class="c" style="left:130px;top:433px;width:13px;height:13px;background:#ffffff"></div>
<div class="c" style="left:144px;top:433px;width:13px;height:13px;background:#ffffff"></div>
<div class="c" style="left:158px;top:433px;width:12px;height:13px;background:#ffffff"></div>
<div class="c" style="left:88px;top:447px;width:13px;height:12px;background:#dbe6f3"></div>
<div class="c" style="left:102px;top:447px;width:13px;height:12px;background:#dbe6f3"></div>
<div class="c" style="left:116px;top:447px;width:13px;height:12px;background:#dbe6f3"></div>
<div class="c" style="left:130px;top:447px;width:13px;height:12px;background:#e9f0f9"></div>
<div class="c" style="left:144px;top:447px;width:13px;height:12px;background:#7ca2d1"></div>
<div class="s" style="left:144px;top:450.64px;width:13px;font-size:6.4px;letter-spacing:0px;">*</div>
<div class="c" style="left:158px;top:447px;width:12px;height:12px;background:#a0bcde"></div>
<div class="c" style="left:88px;top:460px;width:13px;height:13px;background:#fdede8"></div>
<div class="c" style="left:102px;top:460px;width:13px;height:13px;background:#f9d6cc"></div>
<div class="c" style="left:116px;top:460px;width:13px;height:13px;background:#ffffff"></div>
<div class="c" style="left:130px;top:460px;width:13px;height:13px;background:#fdede8"></div>
<div class="c" style="left:144px;top:460px;width:13px;height:13px;background:#7ca2d1"></div>
<div class="s" style="left:144px;top:464.14px;width:13px;font-size:6.4px;letter-spacing:0px;">*</div>
<div class="c" style="left:158px;top:460px;width:12px;height:13px;background:#7ca2d1"></div>
<div class="s" style="left:158px;top:464.14px;width:12px;font-size:6.4px;letter-spacing:0px;">*</div>
<div class="c" style="left:88px;top:474px;width:13px;height:12px;background:#f2b4a4"></div>
<div class="c" style="left:102px;top:474px;width:13px;height:12px;background:#f2b4a4"></div>
<div class="c" style="left:116px;top:474px;width:13px;height:12px;background:#f2b4a4"></div>
<div class="c" style="left:130px;top:474px;width:13px;height:12px;background:#f9d6cc"></div>
<div class="c" style="left:144px;top:474px;width:13px;height:12px;background:#7ca2d1"></div>
<div class="s" style="left:144px;top:477.64px;width:13px;font-size:6.4px;letter-spacing:0px;">**</div>
<div class="c" style="left:158px;top:474px;width:12px;height:12px;background:#7ca2d1"></div>
<div class="s" style="left:158px;top:477.64px;width:12px;font-size:6.4px;letter-spacing:0px;">**</div>
<div class="c" style="left:88px;top:487px;width:13px;height:13px;background:#cedcee"></div>
<div class="s" style="left:88px;top:491.14px;width:13px;font-size:6.4px;letter-spacing:0px;">*</div>
<div class="c" style="left:102px;top:487px;width:13px;height:13px;background:#f3f6fb"></div>
<div class="c" style="left:116px;top:487px;width:13px;height:13px;background:#dbe6f3"></div>
<div class="c" style="left:130px;top:487px;width:13px;height:13px;background:#fdede8"></div>
<div class="c" style="left:144px;top:487px;width:13px;height:13px;background:#ffffff"></div>
<div class="c" style="left:158px;top:487px;width:12px;height:13px;background:#f9d6cc"></div>
<div class="c" style="left:88px;top:501px;width:13px;height:12px;background:#de6c57"></div>
<div class="c" style="left:102px;top:501px;width:13px;height:12px;background:#de6c57"></div>
<div class="c" style="left:116px;top:501px;width:13px;height:12px;background:#f2b4a4"></div>
<div class="c" style="left:130px;top:501px;width:13px;height:12px;background:#f9d6cc"></div>
<div class="c" style="left:144px;top:501px;width:13px;height:12px;background:#6a94ca"></div>
<div class="s" style="left:144px;top:504.64px;width:13px;font-size:6.4px;letter-spacing:0px;">*</div>
<div class="c" style="left:158px;top:501px;width:12px;height:12px;background:#7ca2d1"></div>
<div class="s" style="left:158px;top:504.64px;width:12px;font-size:6.4px;letter-spacing:0px;">*</div>
<div class="c" style="left:173px;top:17px;width:13px;height:13px;background:#f9d6cc"></div>
<div class="s" style="left:173px;top:21.14px;width:13px;font-size:6.4px;letter-spacing:0px;">*</div>
<div class="c" style="left:187px;top:17px;width:13px;height:13px;background:#ffffff"></div>
<div class="c" style="left:201px;top:17px;width:13px;height:13px;background:#cf4735"></div>
<div class="s" style="left:201px;top:21.14px;width:13px;font-size:6.4px;letter-spacing:0px;">***</div>
<div class="c" style="left:215px;top:17px;width:12px;height:13px;background:#f9d6cc"></div>
<div class="s" style="left:215px;top:21.14px;width:12px;font-size:6.4px;letter-spacing:0px;">*</div>
<div class="c" style="left:228px;top:17px;width:13px;height:13px;background:#de6c57"></div>
<div class="s" style="left:228px;top:21.14px;width:13px;font-size:6.4px;letter-spacing:0px;">**</div>
<div class="c" style="left:242px;top:17px;width:13px;height:13px;background:#fdede8"></div>
<div class="c" style="left:173px;top:31px;width:13px;height:12px;background:#ffffff"></div>
<div class="c" style="left:187px;top:31px;width:13px;height:12px;background:#fdede8"></div>
<div class="c" style="left:201px;top:31px;width:13px;height:12px;background:#f3f6fb"></div>
<div class="c" style="left:215px;top:31px;width:12px;height:12px;background:#fdede8"></div>
<div class="c" style="left:228px;top:31px;width:13px;height:12px;background:#de6c57"></div>
<div class="s" style="left:228px;top:34.64px;width:13px;font-size:6.4px;letter-spacing:0px;">***</div>
<div class="c" style="left:242px;top:31px;width:13px;height:12px;background:#c83a2a"></div>
<div class="s" style="left:242px;top:34.64px;width:13px;font-size:6.4px;letter-spacing:0px;">***</div>
<div class="c" style="left:173px;top:44px;width:13px;height:12px;background:#f9d6cc"></div>
<div class="s" style="left:173px;top:47.64px;width:13px;font-size:6.4px;letter-spacing:0px;">***</div>
<div class="c" style="left:187px;top:44px;width:13px;height:12px;background:#fdede8"></div>
<div class="c" style="left:201px;top:44px;width:13px;height:12px;background:#f9d6cc"></div>
<div class="s" style="left:201px;top:47.64px;width:13px;font-size:6.4px;letter-spacing:0px;">***</div>
<div class="c" style="left:215px;top:44px;width:12px;height:12px;background:#fdede8"></div>
<div class="c" style="left:228px;top:44px;width:13px;height:12px;background:#de6c57"></div>
<div class="s" style="left:228px;top:47.64px;width:13px;font-size:6.4px;letter-spacing:0px;">***</div>
<div class="c" style="left:242px;top:44px;width:13px;height:12px;background:#e98f7a"></div>
<div class="s" style="left:242px;top:47.64px;width:13px;font-size:6.4px;letter-spacing:0px;">***</div>
<div class="c" style="left:173px;top:57px;width:13px;height:13px;background:#fdede8"></div>
<div class="c" style="left:187px;top:57px;width:13px;height:13px;background:#e9f0f9"></div>
<div class="c" style="left:201px;top:57px;width:13px;height:13px;background:#fdede8"></div>
<div class="c" style="left:215px;top:57px;width:12px;height:13px;background:#dbe6f3"></div>
<div class="c" style="left:228px;top:57px;width:13px;height:13px;background:#cf4735"></div>
<div class="s" style="left:228px;top:61.14px;width:13px;font-size:6.4px;letter-spacing:0px;">**</div>
<div class="c" style="left:242px;top:57px;width:13px;height:13px;background:#de6c57"></div>
<div class="s" style="left:242px;top:61.14px;width:13px;font-size:6.4px;letter-spacing:0px;">**</div>
<div class="c" style="left:173px;top:71px;width:13px;height:12px;background:#f2b4a4"></div>
<div class="s" style="left:173px;top:74.64px;width:13px;font-size:6.4px;letter-spacing:0px;">***</div>
<div class="c" style="left:187px;top:71px;width:13px;height:12px;background:#fdede8"></div>
<div class="s" style="left:187px;top:74.64px;width:13px;font-size:6.4px;letter-spacing:0px;">*</div>
<div class="c" style="left:201px;top:71px;width:13px;height:12px;background:#f6c5b8"></div>
<div class="s" style="left:201px;top:74.64px;width:13px;font-size:6.4px;letter-spacing:0px;">**</div>
<div class="c" style="left:215px;top:71px;width:12px;height:12px;background:#fdede8"></div>
<div class="c" style="left:228px;top:71px;width:13px;height:12px;background:#f9d6cc"></div>
<div class="s" style="left:228px;top:74.64px;width:13px;font-size:6.4px;letter-spacing:0px;">*</div>
<div class="c" style="left:242px;top:71px;width:13px;height:12px;background:#f9d6cc"></div>
<div class="c" style="left:173px;top:84px;width:13px;height:13px;background:#fdede8"></div>
<div class="c" style="left:187px;top:84px;width:13px;height:13px;background:#fdede8"></div>
<div class="c" style="left:201px;top:84px;width:13px;height:13px;background:#f9d6cc"></div>
<div class="c" style="left:215px;top:84px;width:12px;height:13px;background:#eea28f"></div>
<div class="s" style="left:215px;top:88.14px;width:12px;font-size:6.4px;letter-spacing:0px;">*</div>
<div class="c" style="left:228px;top:84px;width:13px;height:13px;background:#e9f0f9"></div>
<div class="c" style="left:242px;top:84px;width:13px;height:13px;background:#e9f0f9"></div>
<div class="c" style="left:173px;top:98px;width:13px;height:12px;background:#f9d6cc"></div>
<div class="s" style="left:173px;top:101.64px;width:13px;font-size:6.4px;letter-spacing:0px;">**</div>
<div class="c" style="left:187px;top:98px;width:13px;height:12px;background:#fdede8"></div>
<div class="c" style="left:201px;top:98px;width:13px;height:12px;background:#f9d6cc"></div>
<div class="s" style="left:201px;top:101.64px;width:13px;font-size:6.4px;letter-spacing:0px;">***</div>
<div class="c" style="left:215px;top:98px;width:12px;height:12px;background:#f9d6cc"></div>
<div class="s" style="left:215px;top:101.64px;width:12px;font-size:6.4px;letter-spacing:0px;">**</div>
<div class="c" style="left:228px;top:98px;width:13px;height:12px;background:#e98f7a"></div>
<div class="s" style="left:228px;top:101.64px;width:13px;font-size:6.4px;letter-spacing:0px;">***</div>
<div class="c" style="left:242px;top:98px;width:13px;height:12px;background:#e98f7a"></div>
<div class="s" style="left:242px;top:101.64px;width:13px;font-size:6.4px;letter-spacing:0px;">***</div>
<div class="c" style="left:173px;top:111px;width:13px;height:13px;background:#e98f7a"></div>
<div class="s" style="left:173px;top:115.14px;width:13px;font-size:6.4px;letter-spacing:0px;">**</div>
<div class="c" style="left:187px;top:111px;width:13px;height:13px;background:#f9d6cc"></div>
<div class="c" style="left:201px;top:111px;width:13px;height:13px;background:#cf4735"></div>
<div class="s" style="left:201px;top:115.14px;width:13px;font-size:6.4px;letter-spacing:0px;">***</div>
<div class="c" style="left:215px;top:111px;width:12px;height:13px;background:#cf4735"></div>
<div class="s" style="left:215px;top:115.14px;width:12px;font-size:6.4px;letter-spacing:0px;">***</div>
<div class="c" style="left:228px;top:111px;width:13px;height:13px;background:#f2b4a4"></div>
<div class="c" style="left:242px;top:111px;width:13px;height:13px;background:#fdede8"></div>
<div class="c" style="left:173px;top:125px;width:13px;height:12px;background:#fdede8"></div>
<div class="c" style="left:187px;top:125px;width:13px;height:12px;background:#fdede8"></div>
<div class="c" style="left:201px;top:125px;width:13px;height:12px;background:#fdede8"></div>
<div class="c" style="left:215px;top:125px;width:12px;height:12px;background:#fdede8"></div>
<div class="c" style="left:228px;top:125px;width:13px;height:12px;background:#de6c57"></div>
<div class="s" style="left:228px;top:128.64px;width:13px;font-size:6.4px;letter-spacing:0px;">***</div>
<div class="c" style="left:242px;top:125px;width:13px;height:12px;background:#de6c57"></div>
<div class="s" style="left:242px;top:128.64px;width:13px;font-size:6.4px;letter-spacing:0px;">***</div>
<div class="c" style="left:173px;top:138px;width:13px;height:12px;background:#f9d6cc"></div>
<div class="s" style="left:173px;top:141.64px;width:13px;font-size:6.4px;letter-spacing:0px;">**</div>
<div class="c" style="left:187px;top:138px;width:13px;height:12px;background:#ffffff"></div>
<div class="c" style="left:201px;top:138px;width:13px;height:12px;background:#cf4735"></div>
<div class="s" style="left:201px;top:141.64px;width:13px;font-size:6.4px;letter-spacing:0px;">***</div>
<div class="c" style="left:215px;top:138px;width:12px;height:12px;background:#f2b4a4"></div>
<div class="s" style="left:215px;top:141.64px;width:12px;font-size:6.4px;letter-spacing:0px;">**</div>
<div class="c" style="left:228px;top:138px;width:13px;height:12px;background:#e98f7a"></div>
<div class="s" style="left:228px;top:141.64px;width:13px;font-size:6.4px;letter-spacing:0px;">*</div>
<div class="c" style="left:242px;top:138px;width:13px;height:12px;background:#f9d6cc"></div>
<div class="c" style="left:173px;top:151px;width:13px;height:13px;background:#f6c5b8"></div>
<div class="s" style="left:173px;top:155.14px;width:13px;font-size:6.4px;letter-spacing:0px;">**</div>
<div class="c" style="left:187px;top:151px;width:13px;height:13px;background:#fdede8"></div>
<div class="c" style="left:201px;top:151px;width:13px;height:13px;background:#cf4735"></div>
<div class="s" style="left:201px;top:155.14px;width:13px;font-size:6.4px;letter-spacing:0px;">***</div>
<div class="c" style="left:215px;top:151px;width:12px;height:13px;background:#f9d6cc"></div>
<div class="c" style="left:228px;top:151px;width:13px;height:13px;background:#f9d6cc"></div>
<div class="c" style="left:242px;top:151px;width:13px;height:13px;background:#dbe6f3"></div>
<div class="c" style="left:173px;top:165px;width:13px;height:12px;background:#fdede8"></div>
<div class="s" style="left:173px;top:168.64px;width:13px;font-size:6.4px;letter-spacing:0px;">*</div>
<div class="c" style="left:187px;top:165px;width:13px;height:12px;background:#fdede8"></div>
<div class="s" style="left:187px;top:168.64px;width:13px;font-size:6.4px;letter-spacing:0px;">***</div>
<div class="c" style="left:201px;top:165px;width:13px;height:12px;background:#fdede8"></div>
<div class="c" style="left:215px;top:165px;width:12px;height:12px;background:#fdede8"></div>
<div class="s" style="left:215px;top:168.64px;width:12px;font-size:6.4px;letter-spacing:0px;">**</div>
<div class="c" style="left:228px;top:165px;width:13px;height:12px;background:#fdede8"></div>
<div class="s" style="left:228px;top:168.64px;width:13px;font-size:6.4px;letter-spacing:0px;">*</div>
<div class="c" style="left:242px;top:165px;width:13px;height:12px;background:#f9d6cc"></div>
<div class="s" style="left:242px;top:168.64px;width:13px;font-size:6.4px;letter-spacing:0px;">**</div>
<div class="c" style="left:173px;top:178px;width:13px;height:13px;background:#fdede8"></div>
<div class="c" style="left:187px;top:178px;width:13px;height:13px;background:#ffffff"></div>
<div class="c" style="left:201px;top:178px;width:13px;height:13px;background:#f2b4a4"></div>
<div class="s" style="left:201px;top:182.14px;width:13px;font-size:6.4px;letter-spacing:0px;">*</div>
<div class="c" style="left:215px;top:178px;width:12px;height:13px;background:#fdede8"></div>
<div class="c" style="left:228px;top:178px;width:13px;height:13px;background:#fdede8"></div>
<div class="c" style="left:242px;top:178px;width:13px;height:13px;background:#fdede8"></div>
<div class="c" style="left:173px;top:192px;width:13px;height:12px;background:#f9d6cc"></div>
<div class="c" style="left:187px;top:192px;width:13px;height:12px;background:#f9d6cc"></div>
<div class="c" style="left:201px;top:192px;width:13px;height:12px;background:#e98f7a"></div>
<div class="s" style="left:201px;top:195.64px;width:13px;font-size:6.4px;letter-spacing:0px;">*</div>
<div class="c" style="left:215px;top:192px;width:12px;height:12px;background:#e98f7a"></div>
<div class="s" style="left:215px;top:195.64px;width:12px;font-size:6.4px;letter-spacing:0px;">*</div>
<div class="c" style="left:228px;top:192px;width:13px;height:12px;background:#cf4735"></div>
<div class="s" style="left:228px;top:195.64px;width:13px;font-size:6.4px;letter-spacing:0px;">*</div>
<div class="c" style="left:242px;top:192px;width:13px;height:12px;background:#cf4735"></div>
<div class="s" style="left:242px;top:195.64px;width:13px;font-size:6.4px;letter-spacing:0px;">**</div>
<div class="c" style="left:173px;top:205px;width:13px;height:13px;background:#cf4735"></div>
<div class="c" style="left:187px;top:205px;width:13px;height:13px;background:#f2b4a4"></div>
<div class="c" style="left:201px;top:205px;width:13px;height:13px;background:#cf4735"></div>
<div class="s" style="left:201px;top:209.14px;width:13px;font-size:6.4px;letter-spacing:0px;">**</div>
<div class="c" style="left:215px;top:205px;width:12px;height:13px;background:#cf4735"></div>
<div class="c" style="left:228px;top:205px;width:13px;height:13px;background:#cf4735"></div>
<div class="s" style="left:228px;top:209.14px;width:13px;font-size:6.4px;letter-spacing:0px;">*</div>
<div class="c" style="left:242px;top:205px;width:13px;height:13px;background:#cf4735"></div>
<div class="c" style="left:173px;top:219px;width:13px;height:12px;background:#f9d6cc"></div>
<div class="s" style="left:173px;top:222.64px;width:13px;font-size:6.4px;letter-spacing:0px;">*</div>
<div class="c" style="left:187px;top:219px;width:13px;height:12px;background:#fdede8"></div>
<div class="c" style="left:201px;top:219px;width:13px;height:12px;background:#f9d6cc"></div>
<div class="s" style="left:201px;top:222.64px;width:13px;font-size:6.4px;letter-spacing:0px;">**</div>
<div class="c" style="left:215px;top:219px;width:12px;height:12px;background:#f9d6cc"></div>
<div class="c" style="left:228px;top:219px;width:13px;height:12px;background:#cf4735"></div>
<div class="s" style="left:228px;top:222.64px;width:13px;font-size:6.4px;letter-spacing:0px;">***</div>
<div class="c" style="left:242px;top:219px;width:13px;height:12px;background:#de6c57"></div>
<div class="s" style="left:242px;top:222.64px;width:13px;font-size:6.4px;letter-spacing:0px;">***</div>
<div class="c" style="left:173px;top:232px;width:13px;height:12px;background:#ffffff"></div>
<div class="c" style="left:187px;top:232px;width:13px;height:12px;background:#fdede8"></div>
<div class="c" style="left:201px;top:232px;width:13px;height:12px;background:#e9f0f9"></div>
<div class="c" style="left:215px;top:232px;width:12px;height:12px;background:#ffffff"></div>
<div class="c" style="left:228px;top:232px;width:13px;height:12px;background:#f2b4a4"></div>
<div class="s" style="left:228px;top:235.64px;width:13px;font-size:6.4px;letter-spacing:0px;">*</div>
<div class="c" style="left:242px;top:232px;width:13px;height:12px;background:#f9d6cc"></div>
<div class="s" style="left:242px;top:235.64px;width:13px;font-size:6.4px;letter-spacing:0px;">**</div>
<div class="c" style="left:173px;top:245px;width:13px;height:13px;background:#e2ebf6"></div>
<div class="c" style="left:187px;top:245px;width:13px;height:13px;background:#ffffff"></div>
<div class="c" style="left:201px;top:245px;width:13px;height:13px;background:#e9f0f9"></div>
<div class="c" style="left:215px;top:245px;width:12px;height:13px;background:#fdede8"></div>
<div class="c" style="left:228px;top:245px;width:13px;height:13px;background:#de6c57"></div>
<div class="s" style="left:228px;top:249.14px;width:13px;font-size:6.4px;letter-spacing:0px;">***</div>
<div class="c" style="left:242px;top:245px;width:13px;height:13px;background:#cf4735"></div>
<div class="s" style="left:242px;top:249.14px;width:13px;font-size:6.4px;letter-spacing:0px;">***</div>
<div class="c" style="left:173px;top:259px;width:13px;height:12px;background:#c83a2a"></div>
<div class="s" style="left:173px;top:262.64px;width:13px;font-size:6.4px;letter-spacing:0px;">***</div>
<div class="c" style="left:187px;top:259px;width:13px;height:12px;background:#cf4735"></div>
<div class="s" style="left:187px;top:262.64px;width:13px;font-size:6.4px;letter-spacing:0px;">*</div>
<div class="c" style="left:201px;top:259px;width:13px;height:12px;background:#c83a2a"></div>
<div class="s" style="left:201px;top:262.64px;width:13px;font-size:6.4px;letter-spacing:0px;">*</div>
<div class="c" style="left:215px;top:259px;width:12px;height:12px;background:#f6c5b8"></div>
<div class="c" style="left:228px;top:259px;width:13px;height:12px;background:#cf4735"></div>
<div class="s" style="left:228px;top:262.64px;width:13px;font-size:6.4px;letter-spacing:0px;">*</div>
<div class="c" style="left:242px;top:259px;width:13px;height:12px;background:#cf4735"></div>
<div class="c" style="left:173px;top:272px;width:13px;height:13px;background:#f9d6cc"></div>
<div class="s" style="left:173px;top:276.14px;width:13px;font-size:6.4px;letter-spacing:0px;">*</div>
<div class="c" style="left:187px;top:272px;width:13px;height:13px;background:#f2b4a4"></div>
<div class="s" style="left:187px;top:276.14px;width:13px;font-size:6.4px;letter-spacing:0px;">**</div>
<div class="c" style="left:201px;top:272px;width:13px;height:13px;background:#fdede8"></div>
<div class="c" style="left:215px;top:272px;width:12px;height:13px;background:#f9d6cc"></div>
<div class="c" style="left:228px;top:272px;width:13px;height:13px;background:#cf4735"></div>
<div class="s" style="left:228px;top:276.14px;width:13px;font-size:6.4px;letter-spacing:0px;">**</div>
<div class="c" style="left:242px;top:272px;width:13px;height:13px;background:#cf4735"></div>
<div class="s" style="left:242px;top:276.14px;width:13px;font-size:6.4px;letter-spacing:0px;">***</div>
<div class="c" style="left:173px;top:286px;width:13px;height:12px;background:#dbe6f3"></div>
<div class="c" style="left:187px;top:286px;width:13px;height:12px;background:#dbe6f3"></div>
<div class="c" style="left:201px;top:286px;width:13px;height:12px;background:#ffffff"></div>
<div class="c" style="left:215px;top:286px;width:12px;height:12px;background:#fdede8"></div>
<div class="c" style="left:228px;top:286px;width:13px;height:12px;background:#8eafd8"></div>
<div class="s" style="left:228px;top:289.64px;width:13px;font-size:6.4px;letter-spacing:0px;">***</div>
<div class="c" style="left:242px;top:286px;width:13px;height:12px;background:#a0bcde"></div>
<div class="s" style="left:242px;top:289.64px;width:13px;font-size:6.4px;letter-spacing:0px;">**</div>
<div class="c" style="left:173px;top:299px;width:13px;height:13px;background:#dbe6f3"></div>
<div class="s" style="left:173px;top:303.14px;width:13px;font-size:6.4px;letter-spacing:0px;">***</div>
<div class="c" style="left:187px;top:299px;width:13px;height:13px;background:#e9f0f9"></div>
<div class="s" style="left:187px;top:303.14px;width:13px;font-size:6.4px;letter-spacing:0px;">*</div>
<div class="c" style="left:201px;top:299px;width:13px;height:13px;background:#dbe6f3"></div>
<div class="s" style="left:201px;top:303.14px;width:13px;font-size:6.4px;letter-spacing:0px;">**</div>
<div class="c" style="left:215px;top:299px;width:12px;height:13px;background:#e9f0f9"></div>
<div class="c" style="left:228px;top:299px;width:13px;height:13px;background:#dbe6f3"></div>
<div class="s" style="left:228px;top:303.14px;width:13px;font-size:6.4px;letter-spacing:0px;">**</div>
<div class="c" style="left:242px;top:299px;width:13px;height:13px;background:#e9f0f9"></div>
<div class="c" style="left:173px;top:313px;width:13px;height:12px;background:#ffffff"></div>
<div class="c" style="left:187px;top:313px;width:13px;height:12px;background:#ffffff"></div>
<div class="c" style="left:201px;top:313px;width:13px;height:12px;background:#fdede8"></div>
<div class="c" style="left:215px;top:313px;width:12px;height:12px;background:#fdede8"></div>
<div class="c" style="left:228px;top:313px;width:13px;height:12px;background:#c0d3e9"></div>
<div class="s" style="left:228px;top:316.64px;width:13px;font-size:6.4px;letter-spacing:0px;">**</div>
<div class="c" style="left:242px;top:313px;width:13px;height:12px;background:#c0d3e9"></div>
<div class="s" style="left:242px;top:316.64px;width:13px;font-size:6.4px;letter-spacing:0px;">**</div>
<div class="c" style="left:173px;top:326px;width:13px;height:12px;background:#ffffff"></div>
<div class="c" style="left:187px;top:326px;width:13px;height:12px;background:#ffffff"></div>
<div class="c" style="left:201px;top:326px;width:13px;height:12px;background:#fdede8"></div>
<div class="c" style="left:215px;top:326px;width:12px;height:12px;background:#fdede8"></div>
<div class="c" style="left:228px;top:326px;width:13px;height:12px;background:#c0d3e9"></div>
<div class="s" style="left:228px;top:329.64px;width:13px;font-size:6.4px;letter-spacing:0px;">*</div>
<div class="c" style="left:242px;top:326px;width:13px;height:12px;background:#c0d3e9"></div>
<div class="s" style="left:242px;top:329.64px;width:13px;font-size:6.4px;letter-spacing:0px;">*</div>
<div class="c" style="left:173px;top:339px;width:13px;height:13px;background:#dbe6f3"></div>
<div class="c" style="left:187px;top:339px;width:13px;height:13px;background:#dbe6f3"></div>
<div class="c" style="left:201px;top:339px;width:13px;height:13px;background:#e9f0f9"></div>
<div class="c" style="left:215px;top:339px;width:12px;height:13px;background:#dbe6f3"></div>
<div class="c" style="left:228px;top:339px;width:13px;height:13px;background:#7ca2d1"></div>
<div class="s" style="left:228px;top:343.14px;width:13px;font-size:6.4px;letter-spacing:0px;">***</div>
<div class="c" style="left:242px;top:339px;width:13px;height:13px;background:#8eafd8"></div>
<div class="s" style="left:242px;top:343.14px;width:13px;font-size:6.4px;letter-spacing:0px;">***</div>
<div class="c" style="left:173px;top:353px;width:13px;height:12px;background:#fdede8"></div>
<div class="c" style="left:187px;top:353px;width:13px;height:12px;background:#f9d6cc"></div>
<div class="c" style="left:201px;top:353px;width:13px;height:12px;background:#fdede8"></div>
<div class="c" style="left:215px;top:353px;width:12px;height:12px;background:#f9d6cc"></div>
<div class="c" style="left:228px;top:353px;width:13px;height:12px;background:#c0d3e9"></div>
<div class="s" style="left:228px;top:356.64px;width:13px;font-size:6.4px;letter-spacing:0px;">*</div>
<div class="c" style="left:242px;top:353px;width:13px;height:12px;background:#dbe6f3"></div>
<div class="c" style="left:173px;top:366px;width:13px;height:13px;background:#ffffff"></div>
<div class="c" style="left:187px;top:366px;width:13px;height:13px;background:#e9f0f9"></div>
<div class="c" style="left:201px;top:366px;width:13px;height:13px;background:#ffffff"></div>
<div class="c" style="left:215px;top:366px;width:12px;height:13px;background:#e9f0f9"></div>
<div class="c" style="left:228px;top:366px;width:13px;height:13px;background:#c0d3e9"></div>
<div class="c" style="left:242px;top:366px;width:13px;height:13px;background:#c0d3e9"></div>
<div class="s" style="left:242px;top:370.14px;width:13px;font-size:6.4px;letter-spacing:0px;">*</div>
<div class="c" style="left:173px;top:380px;width:13px;height:12px;background:#fdede8"></div>
<div class="c" style="left:187px;top:380px;width:13px;height:12px;background:#fdede8"></div>
<div class="c" style="left:201px;top:380px;width:13px;height:12px;background:#fdede8"></div>
<div class="c" style="left:215px;top:380px;width:12px;height:12px;background:#fdede8"></div>
<div class="c" style="left:228px;top:380px;width:13px;height:12px;background:#c0d3e9"></div>
<div class="s" style="left:228px;top:383.64px;width:13px;font-size:6.4px;letter-spacing:0px;">***</div>
<div class="c" style="left:242px;top:380px;width:13px;height:12px;background:#c0d3e9"></div>
<div class="s" style="left:242px;top:383.64px;width:13px;font-size:6.4px;letter-spacing:0px;">***</div>
<div class="c" style="left:173px;top:393px;width:13px;height:13px;background:#e9f0f9"></div>
<div class="c" style="left:187px;top:393px;width:13px;height:13px;background:#ffffff"></div>
<div class="c" style="left:201px;top:393px;width:13px;height:13px;background:#fdede8"></div>
<div class="c" style="left:215px;top:393px;width:12px;height:13px;background:#f9d6cc"></div>
<div class="c" style="left:228px;top:393px;width:13px;height:13px;background:#8eafd8"></div>
<div class="s" style="left:228px;top:397.14px;width:13px;font-size:6.4px;letter-spacing:0px;">***</div>
<div class="c" style="left:242px;top:393px;width:13px;height:13px;background:#a0bcde"></div>
<div class="s" style="left:242px;top:397.14px;width:13px;font-size:6.4px;letter-spacing:0px;">***</div>
<div class="c" style="left:173px;top:407px;width:13px;height:12px;background:#e9f0f9"></div>
<div class="c" style="left:187px;top:407px;width:13px;height:12px;background:#e9f0f9"></div>
<div class="c" style="left:201px;top:407px;width:13px;height:12px;background:#c0d3e9"></div>
<div class="s" style="left:201px;top:410.64px;width:13px;font-size:6.4px;letter-spacing:0px;">**</div>
<div class="c" style="left:215px;top:407px;width:12px;height:12px;background:#dbe6f3"></div>
<div class="c" style="left:228px;top:407px;width:13px;height:12px;background:#fdede8"></div>
<div class="c" style="left:242px;top:407px;width:13px;height:12px;background:#fdede8"></div>
<div class="c" style="left:173px;top:420px;width:13px;height:12px;background:#fdede8"></div>
<div class="c" style="left:187px;top:420px;width:13px;height:12px;background:#fbe2da"></div>
<div class="c" style="left:201px;top:420px;width:13px;height:12px;background:#fdede8"></div>
<div class="c" style="left:215px;top:420px;width:12px;height:12px;background:#fbe2da"></div>
<div class="c" style="left:228px;top:420px;width:13px;height:12px;background:#c0d3e9"></div>
<div class="s" style="left:228px;top:423.64px;width:13px;font-size:6.4px;letter-spacing:0px;">**</div>
<div class="c" style="left:242px;top:420px;width:13px;height:12px;background:#dbe6f3"></div>
<div class="c" style="left:173px;top:433px;width:13px;height:13px;background:#fdede8"></div>
<div class="c" style="left:187px;top:433px;width:13px;height:13px;background:#e9f0f9"></div>
<div class="c" style="left:201px;top:433px;width:13px;height:13px;background:#dbe6f3"></div>
<div class="c" style="left:215px;top:433px;width:12px;height:13px;background:#dbe6f3"></div>
<div class="s" style="left:215px;top:437.14px;width:12px;font-size:6.4px;letter-spacing:0px;">*</div>
<div class="c" style="left:228px;top:433px;width:13px;height:13px;background:#f9d6cc"></div>
<div class="c" style="left:242px;top:433px;width:13px;height:13px;background:#fdede8"></div>
<div class="c" style="left:173px;top:447px;width:13px;height:12px;background:#f9d6cc"></div>
<div class="c" style="left:187px;top:447px;width:13px;height:12px;background:#f9d6cc"></div>
<div class="c" style="left:201px;top:447px;width:13px;height:12px;background:#f9d6cc"></div>
<div class="c" style="left:215px;top:447px;width:12px;height:12px;background:#f2b4a4"></div>
<div class="c" style="left:228px;top:447px;width:13px;height:12px;background:#c0d3e9"></div>
<div class="s" style="left:228px;top:450.64px;width:13px;font-size:6.4px;letter-spacing:0px;">**</div>
<div class="c" style="left:242px;top:447px;width:13px;height:12px;background:#c0d3e9"></div>
<div class="s" style="left:242px;top:450.64px;width:13px;font-size:6.4px;letter-spacing:0px;">*</div>
<div class="c" style="left:173px;top:460px;width:13px;height:13px;background:#e9f0f9"></div>
<div class="c" style="left:187px;top:460px;width:13px;height:13px;background:#ffffff"></div>
<div class="c" style="left:201px;top:460px;width:13px;height:13px;background:#fdede8"></div>
<div class="c" style="left:215px;top:460px;width:12px;height:13px;background:#f9d6cc"></div>
<div class="c" style="left:228px;top:460px;width:13px;height:13px;background:#a0bcde"></div>
<div class="s" style="left:228px;top:464.14px;width:13px;font-size:6.4px;letter-spacing:0px;">*</div>
<div class="c" style="left:242px;top:460px;width:13px;height:13px;background:#c0d3e9"></div>
<div class="c" style="left:173px;top:474px;width:13px;height:12px;background:#e9f0f9"></div>
<div class="c" style="left:187px;top:474px;width:13px;height:12px;background:#e9f0f9"></div>
<div class="c" style="left:201px;top:474px;width:13px;height:12px;background:#f9d6cc"></div>
<div class="c" style="left:215px;top:474px;width:12px;height:12px;background:#f2b4a4"></div>
<div class="c" style="left:228px;top:474px;width:13px;height:12px;background:#a0bcde"></div>
<div class="s" style="left:228px;top:477.64px;width:13px;font-size:6.4px;letter-spacing:0px;">***</div>
<div class="c" style="left:242px;top:474px;width:13px;height:12px;background:#c0d3e9"></div>
<div class="s" style="left:242px;top:477.64px;width:13px;font-size:6.4px;letter-spacing:0px;">**</div>
<div class="c" style="left:173px;top:487px;width:13px;height:13px;background:#dbe6f3"></div>
<div class="s" style="left:173px;top:491.14px;width:13px;font-size:6.4px;letter-spacing:0px;">*</div>
<div class="c" style="left:187px;top:487px;width:13px;height:13px;background:#e9f0f9"></div>
<div class="c" style="left:201px;top:487px;width:13px;height:13px;background:#dbe6f3"></div>
<div class="s" style="left:201px;top:491.14px;width:13px;font-size:6.4px;letter-spacing:0px;">*</div>
<div class="c" style="left:215px;top:487px;width:12px;height:13px;background:#e9f0f9"></div>
<div class="c" style="left:228px;top:487px;width:13px;height:13px;background:#f9d6cc"></div>
<div class="c" style="left:242px;top:487px;width:13px;height:13px;background:#f2b4a4"></div>
<div class="c" style="left:173px;top:501px;width:13px;height:12px;background:#cedcee"></div>
<div class="c" style="left:187px;top:501px;width:13px;height:12px;background:#a0bcde"></div>
<div class="s" style="left:187px;top:504.64px;width:13px;font-size:6.4px;letter-spacing:0px;">**</div>
<div class="c" style="left:201px;top:501px;width:13px;height:12px;background:#fdede8"></div>
<div class="c" style="left:215px;top:501px;width:12px;height:12px;background:#dbe6f3"></div>
<div class="c" style="left:228px;top:501px;width:13px;height:12px;background:#c0d3e9"></div>
<div class="c" style="left:242px;top:501px;width:13px;height:12px;background:#a0bcde"></div>
<div class="s" style="left:242px;top:504.64px;width:13px;font-size:6.4px;letter-spacing:0px;">*</div>
<div class="c" style="left:258px;top:17px;width:13px;height:13px;background:#f2b4a4"></div>
<div class="c" style="left:272px;top:17px;width:12px;height:13px;background:#ffffff"></div>
<div class="c" style="left:285px;top:17px;width:13px;height:13px;background:#e98f7a"></div>
<div class="s" style="left:285px;top:21.14px;width:13px;font-size:6.4px;letter-spacing:0px;">*</div>
<div class="c" style="left:299px;top:17px;width:13px;height:13px;background:#fdede8"></div>
<div class="c" style="left:313px;top:17px;width:13px;height:13px;background:#cf4735"></div>
<div class="s" style="left:313px;top:21.14px;width:13px;font-size:6.4px;letter-spacing:0px;">*</div>
<div class="c" style="left:327px;top:17px;width:13px;height:13px;background:#ffffff"></div>
<div class="c" style="left:258px;top:31px;width:13px;height:12px;background:#d65a46"></div>
<div class="s" style="left:258px;top:34.64px;width:13px;font-size:6.4px;letter-spacing:0px;">**</div>
<div class="c" style="left:272px;top:31px;width:12px;height:12px;background:#e98f7a"></div>
<div class="s" style="left:272px;top:34.64px;width:12px;font-size:6.4px;letter-spacing:0px;">*</div>
<div class="c" style="left:285px;top:31px;width:13px;height:12px;background:#d65a46"></div>
<div class="s" style="left:285px;top:34.64px;width:13px;font-size:6.4px;letter-spacing:0px;">**</div>
<div class="c" style="left:299px;top:31px;width:13px;height:12px;background:#e98f7a"></div>
<div class="c" style="left:313px;top:31px;width:13px;height:12px;background:#cf4735"></div>
<div class="s" style="left:313px;top:34.64px;width:13px;font-size:6.4px;letter-spacing:0px;">***</div>
<div class="c" style="left:327px;top:31px;width:13px;height:12px;background:#d65a46"></div>
<div class="s" style="left:327px;top:34.64px;width:13px;font-size:6.4px;letter-spacing:0px;">**</div>
<div class="c" style="left:258px;top:44px;width:13px;height:12px;background:#f2b4a4"></div>
<div class="s" style="left:258px;top:47.64px;width:13px;font-size:6.4px;letter-spacing:0px;">***</div>
<div class="c" style="left:272px;top:44px;width:12px;height:12px;background:#f9d6cc"></div>
<div class="c" style="left:285px;top:44px;width:13px;height:12px;background:#e98f7a"></div>
<div class="s" style="left:285px;top:47.64px;width:13px;font-size:6.4px;letter-spacing:0px;">***</div>
<div class="c" style="left:299px;top:44px;width:13px;height:12px;background:#f9d6cc"></div>
<div class="s" style="left:299px;top:47.64px;width:13px;font-size:6.4px;letter-spacing:0px;">*</div>
<div class="c" style="left:313px;top:44px;width:13px;height:12px;background:#de6c57"></div>
<div class="s" style="left:313px;top:47.64px;width:13px;font-size:6.4px;letter-spacing:0px;">***</div>
<div class="c" style="left:327px;top:44px;width:13px;height:12px;background:#fdede8"></div>
<div class="c" style="left:258px;top:57px;width:13px;height:13px;background:#f9d6cc"></div>
<div class="c" style="left:272px;top:57px;width:12px;height:13px;background:#e9f0f9"></div>
<div class="c" style="left:285px;top:57px;width:13px;height:13px;background:#f2b4a4"></div>
<div class="c" style="left:299px;top:57px;width:13px;height:13px;background:#ffffff"></div>
<div class="c" style="left:313px;top:57px;width:13px;height:13px;background:#cf4735"></div>
<div class="s" style="left:313px;top:61.14px;width:13px;font-size:6.4px;letter-spacing:0px;">**</div>
<div class="c" style="left:327px;top:57px;width:13px;height:13px;background:#cf4735"></div>
<div class="c" style="left:258px;top:71px;width:13px;height:12px;background:#f9d6cc"></div>
<div class="c" style="left:272px;top:71px;width:12px;height:12px;background:#e98f7a"></div>
<div class="s" style="left:272px;top:74.64px;width:12px;font-size:6.4px;letter-spacing:0px;">*</div>
<div class="c" style="left:285px;top:71px;width:13px;height:12px;background:#f9d6cc"></div>
<div class="c" style="left:299px;top:71px;width:13px;height:12px;background:#de6c57"></div>
<div class="s" style="left:299px;top:74.64px;width:13px;font-size:6.4px;letter-spacing:0px;">*</div>
<div class="c" style="left:313px;top:71px;width:13px;height:12px;background:#fdede8"></div>
<div class="c" style="left:327px;top:71px;width:13px;height:12px;background:#e98f7a"></div>
<div class="s" style="left:327px;top:74.64px;width:13px;font-size:6.4px;letter-spacing:0px;">*</div>
<div class="c" style="left:258px;top:84px;width:13px;height:13px;background:#b0c8e4"></div>
<div class="c" style="left:272px;top:84px;width:12px;height:13px;background:#a0bcde"></div>
<div class="c" style="left:285px;top:84px;width:13px;height:13px;background:#e9f0f9"></div>
<div class="c" style="left:299px;top:84px;width:13px;height:13px;background:#dbe6f3"></div>
<div class="c" style="left:313px;top:84px;width:13px;height:13px;background:#cf4735"></div>
<div class="s" style="left:313px;top:88.14px;width:13px;font-size:6.4px;letter-spacing:0px;">*</div>
<div class="c" style="left:327px;top:84px;width:13px;height:13px;background:#cf4735"></div>
<div class="c" style="left:258px;top:98px;width:13px;height:12px;background:#c83a2a"></div>
<div class="s" style="left:258px;top:101.64px;width:13px;font-size:6.4px;letter-spacing:0px;">***</div>
<div class="c" style="left:272px;top:98px;width:12px;height:12px;background:#c83a2a"></div>
<div class="s" style="left:272px;top:101.64px;width:12px;font-size:6.4px;letter-spacing:0px;">***</div>
<div class="c" style="left:285px;top:98px;width:13px;height:12px;background:#c83a2a"></div>
<div class="s" style="left:285px;top:101.64px;width:13px;font-size:6.4px;letter-spacing:0px;">***</div>
<div class="c" style="left:299px;top:98px;width:13px;height:12px;background:#c83a2a"></div>
<div class="s" style="left:299px;top:101.64px;width:13px;font-size:6.4px;letter-spacing:0px;">**</div>
<div class="c" style="left:313px;top:98px;width:13px;height:12px;background:#c83a2a"></div>
<div class="s" style="left:313px;top:101.64px;width:13px;font-size:6.4px;letter-spacing:0px;">***</div>
<div class="c" style="left:327px;top:98px;width:13px;height:12px;background:#c83a2a"></div>
<div class="s" style="left:327px;top:101.64px;width:13px;font-size:6.4px;letter-spacing:0px;">***</div>
<div class="c" style="left:258px;top:111px;width:13px;height:13px;background:#f9d6cc"></div>
<div class="c" style="left:272px;top:111px;width:12px;height:13px;background:#f9d6cc"></div>
<div class="c" style="left:285px;top:111px;width:13px;height:13px;background:#e98f7a"></div>
<div class="s" style="left:285px;top:115.14px;width:13px;font-size:6.4px;letter-spacing:0px;">*</div>
<div class="c" style="left:299px;top:111px;width:13px;height:13px;background:#e98f7a"></div>
<div class="s" style="left:299px;top:115.14px;width:13px;font-size:6.4px;letter-spacing:0px;">*</div>
<div class="c" style="left:313px;top:111px;width:13px;height:13px;background:#fdede8"></div>
<div class="c" style="left:327px;top:111px;width:13px;height:13px;background:#fdede8"></div>
<div class="c" style="left:258px;top:125px;width:13px;height:12px;background:#f2b4a4"></div>
<div class="s" style="left:258px;top:128.64px;width:13px;font-size:6.4px;letter-spacing:0px;">*</div>
<div class="c" style="left:272px;top:125px;width:12px;height:12px;background:#f9d6cc"></div>
<div class="c" style="left:285px;top:125px;width:13px;height:12px;background:#e98f7a"></div>
<div class="s" style="left:285px;top:128.64px;width:13px;font-size:6.4px;letter-spacing:0px;">*</div>
<div class="c" style="left:299px;top:125px;width:13px;height:12px;background:#f9d6cc"></div>
<div class="c" style="left:313px;top:125px;width:13px;height:12px;background:#f2b4a4"></div>
<div class="c" style="left:327px;top:125px;width:13px;height:12px;background:#f9d6cc"></div>
<div class="c" style="left:258px;top:138px;width:13px;height:12px;background:#e98f7a"></div>
<div class="c" style="left:272px;top:138px;width:12px;height:12px;background:#ffffff"></div>
<div class="c" style="left:285px;top:138px;width:13px;height:12px;background:#f3f6fb"></div>
<div class="c" style="left:299px;top:138px;width:13px;height:12px;background:#a0bcde"></div>
<div class="c" style="left:313px;top:138px;width:13px;height:12px;background:#cf4735"></div>
<div class="s" style="left:313px;top:141.64px;width:13px;font-size:6.4px;letter-spacing:0px;">**</div>
<div class="c" style="left:327px;top:138px;width:13px;height:12px;background:#cf4735"></div>
<div class="c" style="left:258px;top:151px;width:13px;height:13px;background:#fdede8"></div>
<div class="c" style="left:272px;top:151px;width:12px;height:13px;background:#e9f0f9"></div>
<div class="c" style="left:285px;top:151px;width:13px;height:13px;background:#fdede8"></div>
<div class="c" style="left:299px;top:151px;width:13px;height:13px;background:#c0d3e9"></div>
<div class="c" style="left:313px;top:151px;width:13px;height:13px;background:#e98f7a"></div>
<div class="s" style="left:313px;top:155.14px;width:13px;font-size:6.4px;letter-spacing:0px;">*</div>
<div class="c" style="left:327px;top:151px;width:13px;height:13px;background:#fdede8"></div>
<div class="c" style="left:258px;top:165px;width:13px;height:12px;background:#e98f7a"></div>
<div class="c" style="left:272px;top:165px;width:12px;height:12px;background:#de6c57"></div>
<div class="s" style="left:272px;top:168.64px;width:12px;font-size:6.4px;letter-spacing:0px;">*</div>
<div class="c" style="left:285px;top:165px;width:13px;height:12px;background:#e98f7a"></div>
<div class="c" style="left:299px;top:165px;width:13px;height:12px;background:#e98f7a"></div>
<div class="c" style="left:313px;top:165px;width:13px;height:12px;background:#f9d6cc"></div>
<div class="c" style="left:327px;top:165px;width:13px;height:12px;background:#f9d6cc"></div>
<div class="c" style="left:258px;top:178px;width:13px;height:13px;background:#de6c57"></div>
<div class="s" style="left:258px;top:182.14px;width:13px;font-size:6.4px;letter-spacing:0px;">**</div>
<div class="c" style="left:272px;top:178px;width:12px;height:13px;background:#de6c57"></div>
<div class="s" style="left:272px;top:182.14px;width:12px;font-size:6.4px;letter-spacing:0px;">**</div>
<div class="c" style="left:285px;top:178px;width:13px;height:13px;background:#de6c57"></div>
<div class="s" style="left:285px;top:182.14px;width:13px;font-size:6.4px;letter-spacing:0px;">**</div>
<div class="c" style="left:299px;top:178px;width:13px;height:13px;background:#de6c57"></div>
<div class="s" style="left:299px;top:182.14px;width:13px;font-size:6.4px;letter-spacing:0px;">**</div>
<div class="c" style="left:313px;top:178px;width:13px;height:13px;background:#de6c57"></div>
<div class="s" style="left:313px;top:182.14px;width:13px;font-size:6.4px;letter-spacing:0px;">*</div>
<div class="c" style="left:327px;top:178px;width:13px;height:13px;background:#cf4735"></div>
<div class="s" style="left:327px;top:182.14px;width:13px;font-size:6.4px;letter-spacing:0px;">*</div>
<div class="c" style="left:258px;top:192px;width:13px;height:12px;background:#f9d6cc"></div>
<div class="c" style="left:272px;top:192px;width:12px;height:12px;background:#ffffff"></div>
<div class="c" style="left:285px;top:192px;width:13px;height:12px;background:#f9d6cc"></div>
<div class="c" style="left:299px;top:192px;width:13px;height:12px;background:#ffffff"></div>
<div class="c" style="left:313px;top:192px;width:13px;height:12px;background:#c83a2a"></div>
<div class="s" style="left:313px;top:195.64px;width:13px;font-size:6.4px;letter-spacing:0px;">**</div>
<div class="c" style="left:327px;top:192px;width:13px;height:12px;background:#f2b4a4"></div>
<div class="c" style="left:258px;top:205px;width:13px;height:13px;background:#fdede8"></div>
<div class="c" style="left:272px;top:205px;width:12px;height:13px;background:#fdede8"></div>
<div class="c" style="left:285px;top:205px;width:13px;height:13px;background:#f2b4a4"></div>
<div class="c" style="left:299px;top:205px;width:13px;height:13px;background:#f2b4a4"></div>
<div class="c" style="left:313px;top:205px;width:13px;height:13px;background:#e98f7a"></div>
<div class="s" style="left:313px;top:209.14px;width:13px;font-size:6.4px;letter-spacing:0px;">*</div>
<div class="c" style="left:327px;top:205px;width:13px;height:13px;background:#f2b4a4"></div>
<div class="c" style="left:258px;top:219px;width:13px;height:12px;background:#f9d6cc"></div>
<div class="s" style="left:258px;top:222.64px;width:13px;font-size:6.4px;letter-spacing:0px;">*</div>
<div class="c" style="left:272px;top:219px;width:12px;height:12px;background:#f9d6cc"></div>
<div class="s" style="left:272px;top:222.64px;width:12px;font-size:6.4px;letter-spacing:0px;">*</div>
<div class="c" style="left:285px;top:219px;width:13px;height:12px;background:#fdede8"></div>
<div class="c" style="left:299px;top:219px;width:13px;height:12px;background:#fdede8"></div>
<div class="c" style="left:313px;top:219px;width:13px;height:12px;background:#e9f0f9"></div>
<div class="c" style="left:327px;top:219px;width:13px;height:12px;background:#e9f0f9"></div>
<div class="c" style="left:258px;top:232px;width:13px;height:12px;background:#f9d6cc"></div>
<div class="c" style="left:272px;top:232px;width:12px;height:12px;background:#f9d6cc"></div>
<div class="c" style="left:285px;top:232px;width:13px;height:12px;background:#e98f7a"></div>
<div class="s" style="left:285px;top:235.64px;width:13px;font-size:6.4px;letter-spacing:0px;">*</div>
<div class="c" style="left:299px;top:232px;width:13px;height:12px;background:#e98f7a"></div>
<div class="s" style="left:299px;top:235.64px;width:13px;font-size:6.4px;letter-spacing:0px;">*</div>
<div class="c" style="left:313px;top:232px;width:13px;height:12px;background:#de6c57"></div>
<div class="s" style="left:313px;top:235.64px;width:13px;font-size:6.4px;letter-spacing:0px;">*</div>
<div class="c" style="left:327px;top:232px;width:13px;height:12px;background:#de6c57"></div>
<div class="s" style="left:327px;top:235.64px;width:13px;font-size:6.4px;letter-spacing:0px;">*</div>
<div class="c" style="left:258px;top:245px;width:13px;height:13px;background:#e98f7a"></div>
<div class="s" style="left:258px;top:249.14px;width:13px;font-size:6.4px;letter-spacing:0px;">*</div>
<div class="c" style="left:272px;top:245px;width:12px;height:13px;background:#de6c57"></div>
<div class="s" style="left:272px;top:249.14px;width:12px;font-size:6.4px;letter-spacing:0px;">*</div>
<div class="c" style="left:285px;top:245px;width:13px;height:13px;background:#de6c57"></div>
<div class="s" style="left:285px;top:249.14px;width:13px;font-size:6.4px;letter-spacing:0px;">*</div>
<div class="c" style="left:299px;top:245px;width:13px;height:13px;background:#cf4735"></div>
<div class="s" style="left:299px;top:249.14px;width:13px;font-size:6.4px;letter-spacing:0px;">**</div>
<div class="c" style="left:313px;top:245px;width:13px;height:13px;background:#f9d6cc"></div>
<div class="c" style="left:327px;top:245px;width:13px;height:13px;background:#f9d6cc"></div>
<div class="c" style="left:258px;top:259px;width:13px;height:12px;background:#fdede8"></div>
<div class="c" style="left:272px;top:259px;width:12px;height:12px;background:#fdede8"></div>
<div class="c" style="left:285px;top:259px;width:13px;height:12px;background:#f2b4a4"></div>
<div class="s" style="left:285px;top:262.64px;width:13px;font-size:6.4px;letter-spacing:0px;">*</div>
<div class="c" style="left:299px;top:259px;width:13px;height:12px;background:#fdede8"></div>
<div class="c" style="left:313px;top:259px;width:13px;height:12px;background:#fdede8"></div>
<div class="c" style="left:327px;top:259px;width:13px;height:12px;background:#fdede8"></div>
<div class="c" style="left:258px;top:272px;width:13px;height:13px;background:#f2b4a4"></div>
<div class="c" style="left:272px;top:272px;width:12px;height:13px;background:#ffffff"></div>
<div class="c" style="left:285px;top:272px;width:13px;height:13px;background:#fdede8"></div>
<div class="c" style="left:299px;top:272px;width:13px;height:13px;background:#e9f0f9"></div>
<div class="c" style="left:313px;top:272px;width:13px;height:13px;background:#c83a2a"></div>
<div class="s" style="left:313px;top:276.14px;width:13px;font-size:6.4px;letter-spacing:0px;">**</div>
<div class="c" style="left:327px;top:272px;width:13px;height:13px;background:#cf4735"></div>
<div class="s" style="left:327px;top:276.14px;width:13px;font-size:6.4px;letter-spacing:0px;">*</div>
<div class="c" style="left:258px;top:286px;width:13px;height:12px;background:#dbe6f3"></div>
<div class="c" style="left:272px;top:286px;width:12px;height:12px;background:#f9d6cc"></div>
<div class="c" style="left:285px;top:286px;width:13px;height:12px;background:#c0d3e9"></div>
<div class="c" style="left:299px;top:286px;width:13px;height:12px;background:#ffffff"></div>
<div class="c" style="left:313px;top:286px;width:13px;height:12px;background:#8eafd8"></div>
<div class="s" style="left:313px;top:289.64px;width:13px;font-size:6.4px;letter-spacing:0px;">*</div>
<div class="c" style="left:327px;top:286px;width:13px;height:12px;background:#dbe6f3"></div>
<div class="c" style="left:258px;top:299px;width:13px;height:13px;background:#c0d3e9"></div>
<div class="s" style="left:258px;top:303.14px;width:13px;font-size:6.4px;letter-spacing:0px;">**</div>
<div class="c" style="left:272px;top:299px;width:12px;height:13px;background:#dbe6f3"></div>
<div class="c" style="left:285px;top:299px;width:13px;height:13px;background:#c0d3e9"></div>
<div class="s" style="left:285px;top:303.14px;width:13px;font-size:6.4px;letter-spacing:0px;">***</div>
<div class="c" style="left:299px;top:299px;width:13px;height:13px;background:#c0d3e9"></div>
<div class="s" style="left:299px;top:303.14px;width:13px;font-size:6.4px;letter-spacing:0px;">**</div>
<div class="c" style="left:313px;top:299px;width:13px;height:13px;background:#c0d3e9"></div>
<div class="s" style="left:313px;top:303.14px;width:13px;font-size:6.4px;letter-spacing:0px;">**</div>
<div class="c" style="left:327px;top:299px;width:13px;height:13px;background:#c0d3e9"></div>
<div class="c" style="left:258px;top:313px;width:13px;height:12px;background:#dbe6f3"></div>
<div class="s" style="left:258px;top:316.64px;width:13px;font-size:6.4px;letter-spacing:0px;">*</div>
<div class="c" style="left:272px;top:313px;width:12px;height:12px;background:#e9f0f9"></div>
<div class="c" style="left:285px;top:313px;width:13px;height:12px;background:#c0d3e9"></div>
<div class="s" style="left:285px;top:316.64px;width:13px;font-size:6.4px;letter-spacing:0px;">**</div>
<div class="c" style="left:299px;top:313px;width:13px;height:12px;background:#dbe6f3"></div>
<div class="c" style="left:313px;top:313px;width:13px;height:12px;background:#a0bcde"></div>
<div class="s" style="left:313px;top:316.64px;width:13px;font-size:6.4px;letter-spacing:0px;">***</div>
<div class="c" style="left:327px;top:313px;width:13px;height:12px;background:#c0d3e9"></div>
<div class="s" style="left:327px;top:316.64px;width:13px;font-size:6.4px;letter-spacing:0px;">*</div>
<div class="c" style="left:258px;top:326px;width:13px;height:12px;background:#c0d3e9"></div>
<div class="c" style="left:272px;top:326px;width:12px;height:12px;background:#c0d3e9"></div>
<div class="s" style="left:272px;top:329.64px;width:12px;font-size:6.4px;letter-spacing:0px;">*</div>
<div class="c" style="left:285px;top:326px;width:13px;height:12px;background:#dbe6f3"></div>
<div class="c" style="left:299px;top:326px;width:13px;height:12px;background:#c0d3e9"></div>
<div class="c" style="left:313px;top:326px;width:13px;height:12px;background:#ffffff"></div>
<div class="c" style="left:327px;top:326px;width:13px;height:12px;background:#e9f0f9"></div>
<div class="c" style="left:258px;top:339px;width:13px;height:13px;background:#a0bcde"></div>
<div class="s" style="left:258px;top:343.14px;width:13px;font-size:6.4px;letter-spacing:0px;">**</div>
<div class="c" style="left:272px;top:339px;width:12px;height:13px;background:#c0d3e9"></div>
<div class="s" style="left:272px;top:343.14px;width:12px;font-size:6.4px;letter-spacing:0px;">*</div>
<div class="c" style="left:285px;top:339px;width:13px;height:13px;background:#a0bcde"></div>
<div class="s" style="left:285px;top:343.14px;width:13px;font-size:6.4px;letter-spacing:0px;">***</div>
<div class="c" style="left:299px;top:339px;width:13px;height:13px;background:#a0bcde"></div>
<div class="s" style="left:299px;top:343.14px;width:13px;font-size:6.4px;letter-spacing:0px;">**</div>
<div class="c" style="left:313px;top:339px;width:13px;height:13px;background:#5785c2"></div>
<div class="s" style="left:313px;top:343.14px;width:13px;font-size:6.4px;letter-spacing:0px;">***</div>
<div class="c" style="left:327px;top:339px;width:13px;height:13px;background:#7ca2d1"></div>
<div class="s" style="left:327px;top:343.14px;width:13px;font-size:6.4px;letter-spacing:0px;">*</div>
<div class="c" style="left:258px;top:353px;width:13px;height:12px;background:#c0d3e9"></div>
<div class="c" style="left:272px;top:353px;width:12px;height:12px;background:#dbe6f3"></div>
<div class="c" style="left:285px;top:353px;width:13px;height:12px;background:#c0d3e9"></div>
<div class="s" style="left:285px;top:356.64px;width:13px;font-size:6.4px;letter-spacing:0px;">*</div>
<div class="c" style="left:299px;top:353px;width:13px;height:12px;background:#dbe6f3"></div>
<div class="c" style="left:313px;top:353px;width:13px;height:12px;background:#c0d3e9"></div>
<div class="c" style="left:327px;top:353px;width:13px;height:12px;background:#e9f0f9"></div>
<div class="c" style="left:258px;top:366px;width:13px;height:13px;background:#a0bcde"></div>
<div class="c" style="left:272px;top:366px;width:12px;height:13px;background:#7ca2d1"></div>
<div class="s" style="left:272px;top:370.14px;width:12px;font-size:6.4px;letter-spacing:0px;">*</div>
<div class="c" style="left:285px;top:366px;width:13px;height:13px;background:#a0bcde"></div>
<div class="c" style="left:299px;top:366px;width:13px;height:13px;background:#7ca2d1"></div>
<div class="c" style="left:313px;top:366px;width:13px;height:13px;background:#dbe6f3"></div>
<div class="c" style="left:327px;top:366px;width:13px;height:13px;background:#a0bcde"></div>
<div class="c" style="left:258px;top:380px;width:13px;height:12px;background:#dbe6f3"></div>
<div class="s" style="left:258px;top:383.64px;width:13px;font-size:6.4px;letter-spacing:0px;">*</div>
<div class="c" style="left:272px;top:380px;width:12px;height:12px;background:#e9f0f9"></div>
<div class="c" style="left:285px;top:380px;width:13px;height:12px;background:#e9f0f9"></div>
<div class="c" style="left:299px;top:380px;width:13px;height:12px;background:#e9f0f9"></div>
<div class="c" style="left:313px;top:380px;width:13px;height:12px;background:#dbe6f3"></div>
<div class="s" style="left:313px;top:383.64px;width:13px;font-size:6.4px;letter-spacing:0px;">*</div>
<div class="c" style="left:327px;top:380px;width:13px;height:12px;background:#e9f0f9"></div>
<div class="c" style="left:258px;top:393px;width:13px;height:13px;background:#dbe6f3"></div>
<div class="c" style="left:272px;top:393px;width:12px;height:13px;background:#fdede8"></div>
<div class="c" style="left:285px;top:393px;width:13px;height:13px;background:#c0d3e9"></div>
<div class="s" style="left:285px;top:397.14px;width:13px;font-size:6.4px;letter-spacing:0px;">*</div>
<div class="c" style="left:299px;top:393px;width:13px;height:13px;background:#dbe6f3"></div>
<div class="c" style="left:313px;top:393px;width:13px;height:13px;background:#8eafd8"></div>
<div class="s" style="left:313px;top:397.14px;width:13px;font-size:6.4px;letter-spacing:0px;">*</div>
<div class="c" style="left:327px;top:393px;width:13px;height:13px;background:#c0d3e9"></div>
<div class="c" style="left:258px;top:407px;width:13px;height:12px;background:#c0d3e9"></div>
<div class="c" style="left:272px;top:407px;width:12px;height:12px;background:#c0d3e9"></div>
<div class="s" style="left:272px;top:410.64px;width:12px;font-size:6.4px;letter-spacing:0px;">*</div>
<div class="c" style="left:285px;top:407px;width:13px;height:12px;background:#dbe6f3"></div>
<div class="c" style="left:299px;top:407px;width:13px;height:12px;background:#c0d3e9"></div>
<div class="s" style="left:299px;top:410.64px;width:13px;font-size:6.4px;letter-spacing:0px;">*</div>
<div class="c" style="left:313px;top:407px;width:13px;height:12px;background:#fdede8"></div>
<div class="c" style="left:327px;top:407px;width:13px;height:12px;background:#e9f0f9"></div>
<div class="c" style="left:258px;top:420px;width:13px;height:12px;background:#8eafd8"></div>
<div class="s" style="left:258px;top:423.64px;width:13px;font-size:6.4px;letter-spacing:0px;">**</div>
<div class="c" style="left:272px;top:420px;width:12px;height:12px;background:#c0d3e9"></div>
<div class="s" style="left:272px;top:423.64px;width:12px;font-size:6.4px;letter-spacing:0px;">*</div>
<div class="c" style="left:285px;top:420px;width:13px;height:12px;background:#a0bcde"></div>
<div class="s" style="left:285px;top:423.64px;width:13px;font-size:6.4px;letter-spacing:0px;">**</div>
<div class="c" style="left:299px;top:420px;width:13px;height:12px;background:#c0d3e9"></div>
<div class="s" style="left:299px;top:423.64px;width:13px;font-size:6.4px;letter-spacing:0px;">*</div>
<div class="c" style="left:313px;top:420px;width:13px;height:12px;background:#8eafd8"></div>
<div class="c" style="left:327px;top:420px;width:13px;height:12px;background:#dbe6f3"></div>
<div class="c" style="left:258px;top:433px;width:13px;height:13px;background:#e9f0f9"></div>
<div class="c" style="left:272px;top:433px;width:12px;height:13px;background:#dbe6f3"></div>
<div class="s" style="left:272px;top:437.14px;width:12px;font-size:6.4px;letter-spacing:0px;">*</div>
<div class="c" style="left:285px;top:433px;width:13px;height:13px;background:#e9f0f9"></div>
<div class="c" style="left:299px;top:433px;width:13px;height:13px;background:#e9f0f9"></div>
<div class="c" style="left:313px;top:433px;width:13px;height:13px;background:#e9f0f9"></div>
<div class="c" style="left:327px;top:433px;width:13px;height:13px;background:#dbe6f3"></div>
<div class="c" style="left:258px;top:447px;width:13px;height:12px;background:#c0d3e9"></div>
<div class="c" style="left:272px;top:447px;width:12px;height:12px;background:#c0d3e9"></div>
<div class="c" style="left:285px;top:447px;width:13px;height:12px;background:#a0bcde"></div>
<div class="s" style="left:285px;top:450.64px;width:13px;font-size:6.4px;letter-spacing:0px;">*</div>
<div class="c" style="left:299px;top:447px;width:13px;height:12px;background:#a0bcde"></div>
<div class="s" style="left:299px;top:450.64px;width:13px;font-size:6.4px;letter-spacing:0px;">*</div>
<div class="c" style="left:313px;top:447px;width:13px;height:12px;background:#dbe6f3"></div>
<div class="c" style="left:327px;top:447px;width:13px;height:12px;background:#dbe6f3"></div>
<div class="c" style="left:258px;top:460px;width:13px;height:13px;background:#c0d3e9"></div>
<div class="s" style="left:258px;top:464.14px;width:13px;font-size:6.4px;letter-spacing:0px;">*</div>
<div class="c" style="left:272px;top:460px;width:12px;height:13px;background:#c0d3e9"></div>
<div class="c" style="left:285px;top:460px;width:13px;height:13px;background:#c0d3e9"></div>
<div class="s" style="left:285px;top:464.14px;width:13px;font-size:6.4px;letter-spacing:0px;">*</div>
<div class="c" style="left:299px;top:460px;width:13px;height:13px;background:#c0d3e9"></div>
<div class="s" style="left:299px;top:464.14px;width:13px;font-size:6.4px;letter-spacing:0px;">*</div>
<div class="c" style="left:313px;top:460px;width:13px;height:13px;background:#e9f0f9"></div>
<div class="c" style="left:327px;top:460px;width:13px;height:13px;background:#f2b4a4"></div>
<div class="c" style="left:258px;top:474px;width:13px;height:12px;background:#dbe6f3"></div>
<div class="c" style="left:272px;top:474px;width:12px;height:12px;background:#e9f0f9"></div>
<div class="c" style="left:285px;top:474px;width:13px;height:12px;background:#c0d3e9"></div>
<div class="s" style="left:285px;top:477.64px;width:13px;font-size:6.4px;letter-spacing:0px;">*</div>
<div class="c" style="left:299px;top:474px;width:13px;height:12px;background:#dbe6f3"></div>
<div class="c" style="left:313px;top:474px;width:13px;height:12px;background:#dbe6f3"></div>
<div class="c" style="left:327px;top:474px;width:13px;height:12px;background:#e9f0f9"></div>
<div class="c" style="left:258px;top:487px;width:13px;height:13px;background:#c0d3e9"></div>
<div class="s" style="left:258px;top:491.14px;width:13px;font-size:6.4px;letter-spacing:0px;">**</div>
<div class="c" style="left:272px;top:487px;width:12px;height:13px;background:#dbe6f3"></div>
<div class="s" style="left:272px;top:491.14px;width:12px;font-size:6.4px;letter-spacing:0px;">*</div>
<div class="c" style="left:285px;top:487px;width:13px;height:13px;background:#c0d3e9"></div>
<div class="s" style="left:285px;top:491.14px;width:13px;font-size:6.4px;letter-spacing:0px;">*</div>
<div class="c" style="left:299px;top:487px;width:13px;height:13px;background:#dbe6f3"></div>
<div class="c" style="left:313px;top:487px;width:13px;height:13px;background:#e9f0f9"></div>
<div class="c" style="left:327px;top:487px;width:13px;height:13px;background:#fdede8"></div>
<div class="c" style="left:258px;top:501px;width:13px;height:12px;background:#e9f0f9"></div>
<div class="c" style="left:272px;top:501px;width:12px;height:12px;background:#dbe6f3"></div>
<div class="c" style="left:285px;top:501px;width:13px;height:12px;background:#c0d3e9"></div>
<div class="c" style="left:299px;top:501px;width:13px;height:12px;background:#a0bcde"></div>
<div class="s" style="left:299px;top:504.64px;width:13px;font-size:6.4px;letter-spacing:0px;">*</div>
<div class="c" style="left:313px;top:501px;width:13px;height:12px;background:#fdede8"></div>
<div class="c" style="left:327px;top:501px;width:13px;height:12px;background:#e9f0f9"></div>
<div class="t" style="right:486.20px;top:21.46px;font-size:6.2px;">ABCA5</div>
<div class="t" style="left:341.8px;top:21.46px;font-size:6.2px;">Probe_213353_at_ABCA5</div>
<div class="t" style="right:486.20px;top:34.90px;font-size:6.2px;">ABCC1</div>
<div class="t" style="left:341.8px;top:34.90px;font-size:6.2px;">Probe_202804_at_ABCC1</div>
<div class="t" style="right:486.20px;top:48.33px;font-size:6.2px;">ADGRG1</div>
<div class="t" style="left:341.8px;top:48.33px;font-size:6.2px;">Probe_212070_at_ADGRG1</div>
<div class="t" style="right:486.20px;top:61.76px;font-size:6.2px;">APPL2</div>
<div class="t" style="left:341.8px;top:61.76px;font-size:6.2px;">Probe_218218_at_APPL2</div>
<div class="t" style="right:486.20px;top:75.19px;font-size:6.2px;">BCL2</div>
<div class="t" style="left:341.8px;top:75.19px;font-size:6.2px;">Probe_207005_s_at_BCL2</div>
<div class="t" style="right:486.20px;top:88.62px;font-size:6.2px;">CDC23</div>
<div class="t" style="left:341.8px;top:88.62px;font-size:6.2px;">Probe_202892_at_CDC23</div>
<div class="t" style="right:486.20px;top:102.05px;font-size:6.2px;">CLIP2</div>
<div class="t" style="left:341.8px;top:102.05px;font-size:6.2px;">Probe_211031_s_at_CLIP2</div>
<div class="t" style="right:486.20px;top:115.47px;font-size:6.2px;">HEYL</div>
<div class="t" style="left:341.8px;top:115.47px;font-size:6.2px;">Probe_220662_s_at_HEYL</div>
<div class="t" style="right:486.20px;top:128.90px;font-size:6.2px;">MXRA7</div>
<div class="t" style="left:341.8px;top:128.90px;font-size:6.2px;">Probe_212509_s_at_MXRA7</div>
<div class="t" style="right:486.20px;top:142.33px;font-size:6.2px;">NISCH</div>
<div class="t" style="left:341.8px;top:142.33px;font-size:6.2px;">Probe_201591_s_at_NISCH</div>
<div class="t" style="right:486.20px;top:155.76px;font-size:6.2px;">PIP4K2C</div>
<div class="t" style="left:341.8px;top:155.76px;font-size:6.2px;">Probe_218942_at_PIP4K2C</div>
<div class="t" style="right:486.20px;top:169.19px;font-size:6.2px;">PRDM8</div>
<div class="t" style="left:341.8px;top:169.19px;font-size:6.2px;">Probe_219835_at_PRDM8</div>
<div class="t" style="right:486.20px;top:182.62px;font-size:6.2px;">RAD54L2</div>
<div class="t" style="left:341.8px;top:182.62px;font-size:6.2px;">Probe_213205_s_at_RAD54L2</div>
<div class="t" style="right:486.20px;top:196.05px;font-size:6.2px;">SIRT3</div>
<div class="t" style="left:341.8px;top:196.05px;font-size:6.2px;">Probe_221562_s_at_SIRT3</div>
<div class="t" style="right:486.20px;top:209.48px;font-size:6.2px;">TAF7L</div>
<div class="t" style="left:341.8px;top:209.48px;font-size:6.2px;">Probe_220325_at_TAF7L</div>
<div class="t" style="right:486.20px;top:222.91px;font-size:6.2px;">TPM2</div>
<div class="t" style="left:341.8px;top:222.91px;font-size:6.2px;">Probe_204083_s_at_TPM2</div>
<div class="t" style="right:486.20px;top:236.34px;font-size:6.2px;">TPM4</div>
<div class="t" style="left:341.8px;top:236.34px;font-size:6.2px;">Probe_212481_s_at_TPM4</div>
<div class="t" style="right:486.20px;top:249.77px;font-size:6.2px;">VAV3</div>
<div class="t" style="left:341.8px;top:249.77px;font-size:6.2px;">Probe_218806_s_at_VAV3</div>
<div class="t" style="right:486.20px;top:263.20px;font-size:6.2px;">VIP</div>
<div class="t" style="left:341.8px;top:263.20px;font-size:6.2px;">Probe_206577_at_VIP</div>
<div class="t" style="right:486.20px;top:276.63px;font-size:6.2px;">WDR59</div>
<div class="t" style="left:341.8px;top:276.63px;font-size:6.2px;">Probe_218505_at_WDR59</div>
<div class="t" style="right:486.20px;top:290.06px;font-size:6.2px;">ATP6V0B</div>
<div class="t" style="left:341.8px;top:290.06px;font-size:6.2px;">Probe_200078_s_at_ATP6V0B</div>
<div class="t" style="right:486.20px;top:303.49px;font-size:6.2px;">EVI2B</div>
<div class="t" style="left:341.8px;top:303.49px;font-size:6.2px;">Probe_211742_s_at_EVI2B</div>
<div class="t" style="right:486.20px;top:316.92px;font-size:6.2px;">FCGR1A</div>
<div class="t" style="left:341.8px;top:316.92px;font-size:6.2px;">Probe_216950_s_at_FCGR1A</div>
<div class="t" style="right:486.20px;top:330.35px;font-size:6.2px;">FXN</div>
<div class="t" style="left:341.8px;top:330.35px;font-size:6.2px;">Probe_205565_s_at_FXN</div>
<div class="t" style="right:486.20px;top:343.78px;font-size:6.2px;">GRPEL1</div>
<div class="t" style="left:341.8px;top:343.78px;font-size:6.2px;">Probe_212434_at_GRPEL1</div>
<div class="t" style="right:486.20px;top:357.21px;font-size:6.2px;">HAUS4</div>
<div class="t" style="left:341.8px;top:357.21px;font-size:6.2px;">Probe_218383_at_HAUS4</div>
<div class="t" style="right:486.20px;top:370.64px;font-size:6.2px;">HCFC1</div>
<div class="t" style="left:341.8px;top:370.64px;font-size:6.2px;">Probe_202474_s_at_HCFC1</div>
<div class="t" style="right:486.20px;top:384.07px;font-size:6.2px;">KLF4</div>
<div class="t" style="left:341.8px;top:384.07px;font-size:6.2px;">Probe_220266_s_at_KLF4</div>
<div class="t" style="right:486.20px;top:397.50px;font-size:6.2px;">MAN2B1</div>
<div class="t" style="left:341.8px;top:397.50px;font-size:6.2px;">Probe_209166_s_at_MAN2B1</div>
<div class="t" style="right:486.20px;top:410.93px;font-size:6.2px;">MAP2K3</div>
<div class="t" style="left:341.8px;top:410.93px;font-size:6.2px;">Probe_215499_at_MAP2K3</div>
<div class="t" style="right:486.20px;top:424.36px;font-size:6.2px;">MFNG</div>
<div class="t" style="left:341.8px;top:424.36px;font-size:6.2px;">Probe_204153_s_at_MFNG</div>
<div class="t" style="right:486.20px;top:437.79px;font-size:6.2px;">MGAT3</div>
<div class="t" style="left:341.8px;top:437.79px;font-size:6.2px;">Probe_209764_at_MGAT3</div>
<div class="t" style="right:486.20px;top:451.22px;font-size:6.2px;">NDUFB2</div>
<div class="t" style="left:341.8px;top:451.22px;font-size:6.2px;">Probe_218201_at_NDUFB2</div>
<div class="t" style="right:486.20px;top:464.65px;font-size:6.2px;">PCBP1</div>
<div class="t" style="left:341.8px;top:464.65px;font-size:6.2px;">Probe_208620_at_PCBP1</div>
<div class="t" style="right:486.20px;top:478.08px;font-size:6.2px;">PGAM1</div>
<div class="t" style="left:341.8px;top:478.08px;font-size:6.2px;">Probe_200886_s_at_PGAM1</div>
<div class="t" style="right:486.20px;top:491.51px;font-size:6.2px;">SERINC5</div>
<div class="t" style="left:341.8px;top:491.51px;font-size:6.2px;">Probe_212812_at_SERINC5</div>
<div class="t" style="right:486.20px;top:504.94px;font-size:6.2px;">TAF10</div>
<div class="t" style="left:341.8px;top:504.94px;font-size:6.2px;">Probe_200055_at_TAF10</div>
<div class="t" style="left:0.30px;width:120px;text-align:center;top:7.02px;font-size:8.6px;">CRISPR</div>
<div class="t" style="left:69.20px;width:120px;text-align:center;top:7.02px;font-size:8.6px;">TARGET-0531</div>
<div class="t" style="left:154.05px;width:120px;text-align:center;top:7.02px;font-size:8.6px;">TARGET-1031</div>
<div class="t" style="left:238.70px;width:120px;text-align:center;top:7.02px;font-size:8.6px;">AML02</div>
<div class="t" style="right:473.45px;top:514.30px;font-size:6.2px;transform-origin:100% 50%;transform:rotate(-45deg);">arac.d4.MLE</div>
<div class="t" style="right:456.50px;top:514.30px;font-size:6.2px;transform-origin:100% 50%;transform:rotate(-45deg);">dauno.d4.MLE</div>
<div class="t" style="right:439.55px;top:514.30px;font-size:6.2px;transform-origin:100% 50%;transform:rotate(-45deg);">etop.d4.MLE</div>
<div class="t" style="right:422.35px;top:514.30px;font-size:6.2px;transform-origin:100% 50%;transform:rotate(-45deg);">EFS.unadj.HR</div>
<div class="t" style="right:408.45px;top:514.30px;font-size:6.2px;transform-origin:100% 50%;transform:rotate(-45deg);">EFS.RISK.adj.HR</div>
<div class="t" style="right:394.55px;top:514.30px;font-size:6.2px;transform-origin:100% 50%;transform:rotate(-45deg);">OS.unadj.HR</div>
<div class="t" style="right:380.65px;top:514.30px;font-size:6.2px;transform-origin:100% 50%;transform:rotate(-45deg);">OS.RISK.adj.HR</div>
<div class="t" style="right:366.75px;top:514.30px;font-size:6.2px;transform-origin:100% 50%;transform:rotate(-45deg);">MRD1.unadj.OR</div>
<div class="t" style="right:352.85px;top:514.30px;font-size:6.2px;transform-origin:100% 50%;transform:rotate(-45deg);">MRD1.RISK.adj.OR</div>
<div class="t" style="right:337.38px;top:514.30px;font-size:6.2px;transform-origin:100% 50%;transform:rotate(-45deg);">EFS.unadj.HR</div>
<div class="t" style="right:323.52px;top:514.30px;font-size:6.2px;transform-origin:100% 50%;transform:rotate(-45deg);">EFS.RISK.adj.HR</div>
<div class="t" style="right:309.68px;top:514.30px;font-size:6.2px;transform-origin:100% 50%;transform:rotate(-45deg);">OS.unadj.HR</div>
<div class="t" style="right:295.82px;top:514.30px;font-size:6.2px;transform-origin:100% 50%;transform:rotate(-45deg);">OS.RISK.adj.HR</div>
<div class="t" style="right:281.98px;top:514.30px;font-size:6.2px;transform-origin:100% 50%;transform:rotate(-45deg);">MRD1.unadj.OR</div>
<div class="t" style="right:268.12px;top:514.30px;font-size:6.2px;transform-origin:100% 50%;transform:rotate(-45deg);">MRD1.RISK.adj.OR</div>
<div class="t" style="right:252.60px;top:514.30px;font-size:6.2px;transform-origin:100% 50%;transform:rotate(-45deg);">EFS.unadj.HR</div>
<div class="t" style="right:238.80px;top:514.30px;font-size:6.2px;transform-origin:100% 50%;transform:rotate(-45deg);">EFS.RISK.adj.HR</div>
<div class="t" style="right:225.00px;top:514.30px;font-size:6.2px;transform-origin:100% 50%;transform:rotate(-45deg);">OS.unadj.HR</div>
<div class="t" style="right:211.20px;top:514.30px;font-size:6.2px;transform-origin:100% 50%;transform:rotate(-45deg);">OS.RISK.adj.HR</div>
<div class="t" style="right:197.40px;top:514.30px;font-size:6.2px;transform-origin:100% 50%;transform:rotate(-45deg);">MRD1.unadj.OR</div>
<div class="t" style="right:183.60px;top:514.30px;font-size:6.2px;transform-origin:100% 50%;transform:rotate(-45deg);">MRD1.RISK.adj.OR</div>
<div class="c" style="left:447.2px;top:242.6px;width:4.6px;height:44.9px;background:linear-gradient(to bottom,#c13a2f 0%,#c9463a 10%,#dc7560 24%,#efab95 36%,#f9dccf 46%,#ffffff 52%,#e1ecf6 60%,#b3d0e8 72%,#78a8d4 84%,#3d7bbd 94%,#2c6bb0 100%);"></div>
<div class="t" style="left:454.6px;top:242.10px;font-size:6.2px;">Detrimental (HR 1-2)</div>
<div class="t" style="left:454.6px;top:284.75px;font-size:6.3px;">Beneficial (HR 0.1-1)</div>
<div class="t" style="left:408.80px;width:60px;text-align:center;top:261.70px;font-size:6.2px;transform:rotate(-90deg);">Outcomes</div>
</div></body></html>
